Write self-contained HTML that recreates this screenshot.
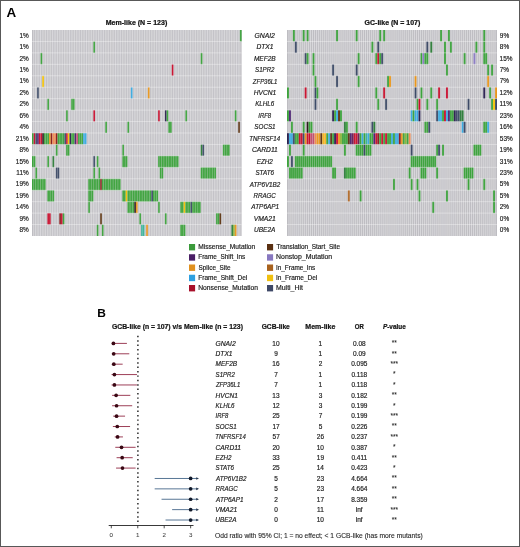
<!DOCTYPE html>
<html><head><meta charset="utf-8"><title>Figure</title>
<style>
html,body{margin:0;padding:0;background:#fff;}
body{width:520px;height:547px;overflow:hidden;}
svg{display:block;font-family:"Liberation Sans",sans-serif;will-change:transform;}
</style></head>
<body>
<svg width="520" height="547" viewBox="0 0 520 547">
<defs><filter id="soft" x="-2%" y="-2%" width="104%" height="104%"><feGaussianBlur stdDeviation="0.3"/></filter></defs>
<rect x="0.5" y="0.5" width="519" height="546" fill="#fff" stroke="#585858" stroke-width="1"/>
<text x="6.46" y="16.80" font-size="12.2" font-weight="bold" textLength="9.70" lengthAdjust="spacingAndGlyphs" fill="#000">A</text>
<text x="97.22" y="317.00" font-size="11.7" font-weight="bold" textLength="8.64" lengthAdjust="spacingAndGlyphs" fill="#000">B</text>
<text x="105.74" y="25.10" font-size="6.6" font-weight="bold" textLength="61.50" lengthAdjust="spacingAndGlyphs" fill="#141414" stroke="#141414" stroke-width="0.22">Mem-like (N = 123)</text>
<text x="364.62" y="25.10" font-size="6.6" font-weight="bold" textLength="55.73" lengthAdjust="spacingAndGlyphs" fill="#141414" stroke="#141414" stroke-width="0.22">GC-like (N = 107)</text>
<g filter="url(#soft)">
<rect x="32.0" y="30.0" width="209.6" height="206.0" fill="#bebdc2"/>
<path d="M33.704 30.0V236.0M35.408 30.0V236.0M37.112 30.0V236.0M38.816 30.0V236.0M40.520 30.0V236.0M42.224 30.0V236.0M43.928 30.0V236.0M45.633 30.0V236.0M47.337 30.0V236.0M49.041 30.0V236.0M50.745 30.0V236.0M52.449 30.0V236.0M54.153 30.0V236.0M55.857 30.0V236.0M57.561 30.0V236.0M59.265 30.0V236.0M60.969 30.0V236.0M62.673 30.0V236.0M64.377 30.0V236.0M66.081 30.0V236.0M67.785 30.0V236.0M69.489 30.0V236.0M71.193 30.0V236.0M72.898 30.0V236.0M74.602 30.0V236.0M76.306 30.0V236.0M78.010 30.0V236.0M79.714 30.0V236.0M81.418 30.0V236.0M83.122 30.0V236.0M84.826 30.0V236.0M86.530 30.0V236.0M88.234 30.0V236.0M89.938 30.0V236.0M91.642 30.0V236.0M93.346 30.0V236.0M95.050 30.0V236.0M96.754 30.0V236.0M98.459 30.0V236.0M100.163 30.0V236.0M101.867 30.0V236.0M103.571 30.0V236.0M105.275 30.0V236.0M106.979 30.0V236.0M108.683 30.0V236.0M110.387 30.0V236.0M112.091 30.0V236.0M113.795 30.0V236.0M115.499 30.0V236.0M117.203 30.0V236.0M118.907 30.0V236.0M120.611 30.0V236.0M122.315 30.0V236.0M124.020 30.0V236.0M125.724 30.0V236.0M127.428 30.0V236.0M129.132 30.0V236.0M130.836 30.0V236.0M132.540 30.0V236.0M134.244 30.0V236.0M135.948 30.0V236.0M137.652 30.0V236.0M139.356 30.0V236.0M141.060 30.0V236.0M142.764 30.0V236.0M144.468 30.0V236.0M146.172 30.0V236.0M147.876 30.0V236.0M149.580 30.0V236.0M151.285 30.0V236.0M152.989 30.0V236.0M154.693 30.0V236.0M156.397 30.0V236.0M158.101 30.0V236.0M159.805 30.0V236.0M161.509 30.0V236.0M163.213 30.0V236.0M164.917 30.0V236.0M166.621 30.0V236.0M168.325 30.0V236.0M170.029 30.0V236.0M171.733 30.0V236.0M173.437 30.0V236.0M175.141 30.0V236.0M176.846 30.0V236.0M178.550 30.0V236.0M180.254 30.0V236.0M181.958 30.0V236.0M183.662 30.0V236.0M185.366 30.0V236.0M187.070 30.0V236.0M188.774 30.0V236.0M190.478 30.0V236.0M192.182 30.0V236.0M193.886 30.0V236.0M195.590 30.0V236.0M197.294 30.0V236.0M198.998 30.0V236.0M200.702 30.0V236.0M202.407 30.0V236.0M204.111 30.0V236.0M205.815 30.0V236.0M207.519 30.0V236.0M209.223 30.0V236.0M210.927 30.0V236.0M212.631 30.0V236.0M214.335 30.0V236.0M216.039 30.0V236.0M217.743 30.0V236.0M219.447 30.0V236.0M221.151 30.0V236.0M222.855 30.0V236.0M224.559 30.0V236.0M226.263 30.0V236.0M227.967 30.0V236.0M229.672 30.0V236.0M231.376 30.0V236.0M233.080 30.0V236.0M234.784 30.0V236.0M236.488 30.0V236.0M238.192 30.0V236.0M239.896 30.0V236.0" stroke="#fff" stroke-width="0.45" stroke-opacity="0.75"/>
<rect x="239.896" y="30.000" width="1.704" height="11.444" fill="#3ca23c"/>
<rect x="93.346" y="41.444" width="1.704" height="11.444" fill="#3ca23c"/>
<rect x="40.520" y="52.889" width="1.704" height="11.444" fill="#3ca23c"/>
<rect x="200.702" y="52.889" width="1.704" height="11.444" fill="#3ca23c"/>
<rect x="171.733" y="64.333" width="1.704" height="11.444" fill="#c8102e"/>
<rect x="42.224" y="75.778" width="1.704" height="11.444" fill="#f5c200"/>
<rect x="37.112" y="87.222" width="1.704" height="11.444" fill="#3c4a66"/>
<rect x="130.836" y="87.222" width="1.704" height="11.444" fill="#3aaae0"/>
<rect x="147.876" y="87.222" width="1.704" height="11.444" fill="#e8961e"/>
<rect x="47.337" y="98.667" width="1.704" height="11.444" fill="#3ca23c"/>
<rect x="71.193" y="98.667" width="1.704" height="11.444" fill="#3ca23c"/>
<rect x="72.898" y="98.667" width="1.704" height="11.444" fill="#3ca23c"/>
<rect x="66.081" y="110.111" width="1.704" height="11.444" fill="#3ca23c"/>
<rect x="93.346" y="110.111" width="1.704" height="11.444" fill="#c8102e"/>
<rect x="158.101" y="110.111" width="1.704" height="11.444" fill="#c8102e"/>
<rect x="164.917" y="110.111" width="1.704" height="11.444" fill="#2a2050"/>
<rect x="166.621" y="110.111" width="1.704" height="11.444" fill="#3ca23c"/>
<rect x="185.366" y="110.111" width="1.704" height="11.444" fill="#3ca23c"/>
<rect x="234.784" y="110.111" width="1.704" height="11.444" fill="#3ca23c"/>
<rect x="105.275" y="121.556" width="1.704" height="11.444" fill="#3ca23c"/>
<rect x="127.428" y="121.556" width="1.704" height="11.444" fill="#3ca23c"/>
<rect x="168.325" y="121.556" width="1.704" height="11.444" fill="#3ca23c"/>
<rect x="170.029" y="121.556" width="1.704" height="11.444" fill="#3ca23c"/>
<rect x="238.192" y="121.556" width="1.704" height="11.444" fill="#5c3310"/>
<rect x="32.000" y="133.000" width="1.704" height="11.444" fill="#3ca23c"/>
<rect x="33.704" y="133.000" width="1.704" height="11.444" fill="#c8102e"/>
<rect x="35.408" y="133.000" width="1.704" height="11.444" fill="#3c4a66"/>
<rect x="37.112" y="133.000" width="1.704" height="11.444" fill="#4b2170"/>
<rect x="38.816" y="133.000" width="1.704" height="11.444" fill="#c8102e"/>
<rect x="40.520" y="133.000" width="1.704" height="11.444" fill="#c8102e"/>
<rect x="42.224" y="133.000" width="1.704" height="11.444" fill="#2a1a1a"/>
<rect x="43.928" y="133.000" width="1.704" height="11.444" fill="#3ca23c"/>
<rect x="45.633" y="133.000" width="1.704" height="11.444" fill="#3ca23c"/>
<rect x="47.337" y="133.000" width="1.704" height="11.444" fill="#3ca23c"/>
<rect x="49.041" y="133.000" width="1.704" height="11.444" fill="#e8961e"/>
<rect x="50.745" y="133.000" width="1.704" height="11.444" fill="#8b1a1a"/>
<rect x="52.449" y="133.000" width="1.704" height="11.444" fill="#f08a50"/>
<rect x="54.153" y="133.000" width="1.704" height="11.444" fill="#f08a50"/>
<rect x="55.857" y="133.000" width="1.704" height="11.444" fill="#8b1a1a"/>
<rect x="57.561" y="133.000" width="1.704" height="11.444" fill="#3ca23c"/>
<rect x="59.265" y="133.000" width="1.704" height="11.444" fill="#3ca23c"/>
<rect x="60.969" y="133.000" width="1.704" height="11.444" fill="#3ca23c"/>
<rect x="62.673" y="133.000" width="1.704" height="11.444" fill="#3ca23c"/>
<rect x="64.377" y="133.000" width="1.704" height="11.444" fill="#3c4a66"/>
<rect x="66.081" y="133.000" width="1.704" height="11.444" fill="#c8102e"/>
<rect x="67.785" y="133.000" width="1.704" height="11.444" fill="#f5c200"/>
<rect x="69.489" y="133.000" width="1.704" height="11.444" fill="#2a2050"/>
<rect x="71.193" y="133.000" width="1.704" height="11.444" fill="#3ca23c"/>
<rect x="72.898" y="133.000" width="1.704" height="11.444" fill="#3ca23c"/>
<rect x="74.602" y="133.000" width="1.704" height="11.444" fill="#4b2170"/>
<rect x="76.306" y="133.000" width="1.704" height="11.444" fill="#c05070"/>
<rect x="78.010" y="133.000" width="1.704" height="11.444" fill="#3ca23c"/>
<rect x="79.714" y="133.000" width="1.704" height="11.444" fill="#3ca23c"/>
<rect x="81.418" y="133.000" width="1.704" height="11.444" fill="#3ca23c"/>
<rect x="83.122" y="133.000" width="1.704" height="11.444" fill="#3aaae0"/>
<rect x="84.826" y="133.000" width="1.704" height="11.444" fill="#3aaae0"/>
<rect x="55.857" y="144.444" width="1.704" height="11.444" fill="#3ca23c"/>
<rect x="66.081" y="144.444" width="1.704" height="11.444" fill="#3ca23c"/>
<rect x="67.785" y="144.444" width="1.704" height="11.444" fill="#3ca23c"/>
<rect x="122.315" y="144.444" width="1.704" height="11.444" fill="#3ca23c"/>
<rect x="200.702" y="144.444" width="1.704" height="11.444" fill="#2e7d3a"/>
<rect x="202.407" y="144.444" width="1.704" height="11.444" fill="#3c4a66"/>
<rect x="222.855" y="144.444" width="1.704" height="11.444" fill="#3ca23c"/>
<rect x="224.559" y="144.444" width="1.704" height="11.444" fill="#3ca23c"/>
<rect x="226.263" y="144.444" width="1.704" height="11.444" fill="#3ca23c"/>
<rect x="227.967" y="144.444" width="1.704" height="11.444" fill="#3ca23c"/>
<rect x="32.000" y="155.889" width="1.704" height="11.444" fill="#3ca23c"/>
<rect x="33.704" y="155.889" width="1.704" height="11.444" fill="#3ca23c"/>
<rect x="47.337" y="155.889" width="1.704" height="11.444" fill="#3ca23c"/>
<rect x="52.449" y="155.889" width="1.704" height="11.444" fill="#2e7d3a"/>
<rect x="93.346" y="155.889" width="1.704" height="11.444" fill="#3c4a66"/>
<rect x="96.754" y="155.889" width="1.704" height="11.444" fill="#3ca23c"/>
<rect x="122.315" y="155.889" width="1.704" height="11.444" fill="#3ca23c"/>
<rect x="124.020" y="155.889" width="1.704" height="11.444" fill="#3ca23c"/>
<rect x="125.724" y="155.889" width="1.704" height="11.444" fill="#3ca23c"/>
<rect x="158.101" y="155.889" width="1.704" height="11.444" fill="#3ca23c"/>
<rect x="159.805" y="155.889" width="1.704" height="11.444" fill="#3ca23c"/>
<rect x="161.509" y="155.889" width="1.704" height="11.444" fill="#3ca23c"/>
<rect x="163.213" y="155.889" width="1.704" height="11.444" fill="#3ca23c"/>
<rect x="164.917" y="155.889" width="1.704" height="11.444" fill="#3ca23c"/>
<rect x="166.621" y="155.889" width="1.704" height="11.444" fill="#3ca23c"/>
<rect x="168.325" y="155.889" width="1.704" height="11.444" fill="#3ca23c"/>
<rect x="170.029" y="155.889" width="1.704" height="11.444" fill="#3ca23c"/>
<rect x="171.733" y="155.889" width="1.704" height="11.444" fill="#3ca23c"/>
<rect x="173.437" y="155.889" width="1.704" height="11.444" fill="#3ca23c"/>
<rect x="175.141" y="155.889" width="1.704" height="11.444" fill="#3ca23c"/>
<rect x="176.846" y="155.889" width="1.704" height="11.444" fill="#3ca23c"/>
<rect x="35.408" y="167.333" width="1.704" height="11.444" fill="#3ca23c"/>
<rect x="55.857" y="167.333" width="1.704" height="11.444" fill="#3c4a66"/>
<rect x="57.561" y="167.333" width="1.704" height="11.444" fill="#3c4a66"/>
<rect x="93.346" y="167.333" width="1.704" height="11.444" fill="#3ca23c"/>
<rect x="98.459" y="167.333" width="1.704" height="11.444" fill="#3ca23c"/>
<rect x="159.805" y="167.333" width="1.704" height="11.444" fill="#3ca23c"/>
<rect x="161.509" y="167.333" width="1.704" height="11.444" fill="#3ca23c"/>
<rect x="200.702" y="167.333" width="1.704" height="11.444" fill="#3ca23c"/>
<rect x="202.407" y="167.333" width="1.704" height="11.444" fill="#3ca23c"/>
<rect x="204.111" y="167.333" width="1.704" height="11.444" fill="#3ca23c"/>
<rect x="205.815" y="167.333" width="1.704" height="11.444" fill="#3ca23c"/>
<rect x="207.519" y="167.333" width="1.704" height="11.444" fill="#3ca23c"/>
<rect x="209.223" y="167.333" width="1.704" height="11.444" fill="#3ca23c"/>
<rect x="210.927" y="167.333" width="1.704" height="11.444" fill="#3ca23c"/>
<rect x="212.631" y="167.333" width="1.704" height="11.444" fill="#3ca23c"/>
<rect x="214.335" y="167.333" width="1.704" height="11.444" fill="#3ca23c"/>
<rect x="32.000" y="178.778" width="1.704" height="11.444" fill="#3ca23c"/>
<rect x="33.704" y="178.778" width="1.704" height="11.444" fill="#3ca23c"/>
<rect x="35.408" y="178.778" width="1.704" height="11.444" fill="#3ca23c"/>
<rect x="37.112" y="178.778" width="1.704" height="11.444" fill="#3ca23c"/>
<rect x="38.816" y="178.778" width="1.704" height="11.444" fill="#3ca23c"/>
<rect x="40.520" y="178.778" width="1.704" height="11.444" fill="#3ca23c"/>
<rect x="42.224" y="178.778" width="1.704" height="11.444" fill="#3ca23c"/>
<rect x="43.928" y="178.778" width="1.704" height="11.444" fill="#3ca23c"/>
<rect x="88.234" y="178.778" width="1.704" height="11.444" fill="#3ca23c"/>
<rect x="89.938" y="178.778" width="1.704" height="11.444" fill="#3ca23c"/>
<rect x="91.642" y="178.778" width="1.704" height="11.444" fill="#3ca23c"/>
<rect x="93.346" y="178.778" width="1.704" height="11.444" fill="#3ca23c"/>
<rect x="95.050" y="178.778" width="1.704" height="11.444" fill="#3ca23c"/>
<rect x="96.754" y="178.778" width="1.704" height="11.444" fill="#3ca23c"/>
<rect x="98.459" y="178.778" width="1.704" height="11.444" fill="#3ca23c"/>
<rect x="100.163" y="178.778" width="1.704" height="11.444" fill="#8b1a1a"/>
<rect x="101.867" y="178.778" width="1.704" height="11.444" fill="#3ca23c"/>
<rect x="103.571" y="178.778" width="1.704" height="11.444" fill="#3ca23c"/>
<rect x="105.275" y="178.778" width="1.704" height="11.444" fill="#3ca23c"/>
<rect x="106.979" y="178.778" width="1.704" height="11.444" fill="#3ca23c"/>
<rect x="108.683" y="178.778" width="1.704" height="11.444" fill="#3ca23c"/>
<rect x="110.387" y="178.778" width="1.704" height="11.444" fill="#3ca23c"/>
<rect x="112.091" y="178.778" width="1.704" height="11.444" fill="#3ca23c"/>
<rect x="113.795" y="178.778" width="1.704" height="11.444" fill="#3ca23c"/>
<rect x="115.499" y="178.778" width="1.704" height="11.444" fill="#3ca23c"/>
<rect x="117.203" y="178.778" width="1.704" height="11.444" fill="#3ca23c"/>
<rect x="118.907" y="178.778" width="1.704" height="11.444" fill="#3ca23c"/>
<rect x="47.337" y="190.222" width="1.704" height="11.444" fill="#3ca23c"/>
<rect x="49.041" y="190.222" width="1.704" height="11.444" fill="#3ca23c"/>
<rect x="50.745" y="190.222" width="1.704" height="11.444" fill="#3ca23c"/>
<rect x="52.449" y="190.222" width="1.704" height="11.444" fill="#3ca23c"/>
<rect x="88.234" y="190.222" width="1.704" height="11.444" fill="#3ca23c"/>
<rect x="89.938" y="190.222" width="1.704" height="11.444" fill="#3ca23c"/>
<rect x="91.642" y="190.222" width="1.704" height="11.444" fill="#3ca23c"/>
<rect x="122.315" y="190.222" width="1.704" height="11.444" fill="#3ca23c"/>
<rect x="124.020" y="190.222" width="1.704" height="11.444" fill="#3ca23c"/>
<rect x="125.724" y="190.222" width="1.704" height="11.444" fill="#f5c200"/>
<rect x="127.428" y="190.222" width="1.704" height="11.444" fill="#3ca23c"/>
<rect x="129.132" y="190.222" width="1.704" height="11.444" fill="#3ca23c"/>
<rect x="130.836" y="190.222" width="1.704" height="11.444" fill="#3ca23c"/>
<rect x="132.540" y="190.222" width="1.704" height="11.444" fill="#3ca23c"/>
<rect x="134.244" y="190.222" width="1.704" height="11.444" fill="#3ca23c"/>
<rect x="135.948" y="190.222" width="1.704" height="11.444" fill="#3ca23c"/>
<rect x="137.652" y="190.222" width="1.704" height="11.444" fill="#3ca23c"/>
<rect x="139.356" y="190.222" width="1.704" height="11.444" fill="#3ca23c"/>
<rect x="141.060" y="190.222" width="1.704" height="11.444" fill="#3ca23c"/>
<rect x="142.764" y="190.222" width="1.704" height="11.444" fill="#3ca23c"/>
<rect x="144.468" y="190.222" width="1.704" height="11.444" fill="#3ca23c"/>
<rect x="146.172" y="190.222" width="1.704" height="11.444" fill="#3ca23c"/>
<rect x="147.876" y="190.222" width="1.704" height="11.444" fill="#3ca23c"/>
<rect x="149.580" y="190.222" width="1.704" height="11.444" fill="#3ca23c"/>
<rect x="151.285" y="190.222" width="1.704" height="11.444" fill="#3c4a66"/>
<rect x="152.989" y="190.222" width="1.704" height="11.444" fill="#3ca23c"/>
<rect x="154.693" y="190.222" width="1.704" height="11.444" fill="#3ca23c"/>
<rect x="156.397" y="190.222" width="1.704" height="11.444" fill="#3ca23c"/>
<rect x="88.234" y="201.667" width="1.704" height="11.444" fill="#3ca23c"/>
<rect x="127.428" y="201.667" width="1.704" height="11.444" fill="#3ca23c"/>
<rect x="129.132" y="201.667" width="1.704" height="11.444" fill="#3ca23c"/>
<rect x="130.836" y="201.667" width="1.704" height="11.444" fill="#3ca23c"/>
<rect x="132.540" y="201.667" width="1.704" height="11.444" fill="#3ca23c"/>
<rect x="134.244" y="201.667" width="1.704" height="11.444" fill="#2a1a1a"/>
<rect x="135.948" y="201.667" width="1.704" height="11.444" fill="#e8961e"/>
<rect x="158.101" y="201.667" width="1.704" height="11.444" fill="#3ca23c"/>
<rect x="180.254" y="201.667" width="1.704" height="11.444" fill="#3ca23c"/>
<rect x="181.958" y="201.667" width="1.704" height="11.444" fill="#3ca23c"/>
<rect x="183.662" y="201.667" width="1.704" height="11.444" fill="#f5c200"/>
<rect x="185.366" y="201.667" width="1.704" height="11.444" fill="#3ca23c"/>
<rect x="187.070" y="201.667" width="1.704" height="11.444" fill="#3ca23c"/>
<rect x="188.774" y="201.667" width="1.704" height="11.444" fill="#3ca23c"/>
<rect x="190.478" y="201.667" width="1.704" height="11.444" fill="#3c4a66"/>
<rect x="192.182" y="201.667" width="1.704" height="11.444" fill="#3ca23c"/>
<rect x="193.886" y="201.667" width="1.704" height="11.444" fill="#3ca23c"/>
<rect x="195.590" y="201.667" width="1.704" height="11.444" fill="#3ca23c"/>
<rect x="197.294" y="201.667" width="1.704" height="11.444" fill="#3ca23c"/>
<rect x="198.998" y="201.667" width="1.704" height="11.444" fill="#3ca23c"/>
<rect x="47.337" y="213.111" width="1.704" height="11.444" fill="#c8102e"/>
<rect x="49.041" y="213.111" width="1.704" height="11.444" fill="#c8102e"/>
<rect x="59.265" y="213.111" width="1.704" height="11.444" fill="#8b1a1a"/>
<rect x="60.969" y="213.111" width="1.704" height="11.444" fill="#c8102e"/>
<rect x="62.673" y="213.111" width="1.704" height="11.444" fill="#3ca23c"/>
<rect x="100.163" y="213.111" width="1.704" height="11.444" fill="#5c3310"/>
<rect x="139.356" y="213.111" width="1.704" height="11.444" fill="#3ca23c"/>
<rect x="164.917" y="213.111" width="1.704" height="11.444" fill="#3ca23c"/>
<rect x="216.039" y="213.111" width="1.704" height="11.444" fill="#3ca23c"/>
<rect x="217.743" y="213.111" width="1.704" height="11.444" fill="#3ca23c"/>
<rect x="219.447" y="213.111" width="1.704" height="11.444" fill="#5c3310"/>
<rect x="96.754" y="224.556" width="1.704" height="11.444" fill="#3ca23c"/>
<rect x="101.867" y="224.556" width="1.704" height="11.444" fill="#3ca23c"/>
<rect x="141.060" y="224.556" width="1.704" height="11.444" fill="#3bb39a"/>
<rect x="142.764" y="224.556" width="1.704" height="11.444" fill="#3bb39a"/>
<rect x="146.172" y="224.556" width="1.704" height="11.444" fill="#e8961e"/>
<rect x="180.254" y="224.556" width="1.704" height="11.444" fill="#3ca23c"/>
<rect x="181.958" y="224.556" width="1.704" height="11.444" fill="#3ca23c"/>
<rect x="183.662" y="224.556" width="1.704" height="11.444" fill="#3ca23c"/>
<rect x="231.376" y="224.556" width="1.704" height="11.444" fill="#2e7d3a"/>
<rect x="233.080" y="224.556" width="1.704" height="11.444" fill="#8ab43a"/>
<rect x="234.784" y="224.556" width="1.704" height="11.444" fill="#e8961e"/>
<path d="M33.704 30.0V236.0M35.408 30.0V236.0M37.112 30.0V236.0M38.816 30.0V236.0M40.520 30.0V236.0M42.224 30.0V236.0M43.928 30.0V236.0M45.633 30.0V236.0M47.337 30.0V236.0M49.041 30.0V236.0M50.745 30.0V236.0M52.449 30.0V236.0M54.153 30.0V236.0M55.857 30.0V236.0M57.561 30.0V236.0M59.265 30.0V236.0M60.969 30.0V236.0M62.673 30.0V236.0M64.377 30.0V236.0M66.081 30.0V236.0M67.785 30.0V236.0M69.489 30.0V236.0M71.193 30.0V236.0M72.898 30.0V236.0M74.602 30.0V236.0M76.306 30.0V236.0M78.010 30.0V236.0M79.714 30.0V236.0M81.418 30.0V236.0M83.122 30.0V236.0M84.826 30.0V236.0M86.530 30.0V236.0M88.234 30.0V236.0M89.938 30.0V236.0M91.642 30.0V236.0M93.346 30.0V236.0M95.050 30.0V236.0M96.754 30.0V236.0M98.459 30.0V236.0M100.163 30.0V236.0M101.867 30.0V236.0M103.571 30.0V236.0M105.275 30.0V236.0M106.979 30.0V236.0M108.683 30.0V236.0M110.387 30.0V236.0M112.091 30.0V236.0M113.795 30.0V236.0M115.499 30.0V236.0M117.203 30.0V236.0M118.907 30.0V236.0M120.611 30.0V236.0M122.315 30.0V236.0M124.020 30.0V236.0M125.724 30.0V236.0M127.428 30.0V236.0M129.132 30.0V236.0M130.836 30.0V236.0M132.540 30.0V236.0M134.244 30.0V236.0M135.948 30.0V236.0M137.652 30.0V236.0M139.356 30.0V236.0M141.060 30.0V236.0M142.764 30.0V236.0M144.468 30.0V236.0M146.172 30.0V236.0M147.876 30.0V236.0M149.580 30.0V236.0M151.285 30.0V236.0M152.989 30.0V236.0M154.693 30.0V236.0M156.397 30.0V236.0M158.101 30.0V236.0M159.805 30.0V236.0M161.509 30.0V236.0M163.213 30.0V236.0M164.917 30.0V236.0M166.621 30.0V236.0M168.325 30.0V236.0M170.029 30.0V236.0M171.733 30.0V236.0M173.437 30.0V236.0M175.141 30.0V236.0M176.846 30.0V236.0M178.550 30.0V236.0M180.254 30.0V236.0M181.958 30.0V236.0M183.662 30.0V236.0M185.366 30.0V236.0M187.070 30.0V236.0M188.774 30.0V236.0M190.478 30.0V236.0M192.182 30.0V236.0M193.886 30.0V236.0M195.590 30.0V236.0M197.294 30.0V236.0M198.998 30.0V236.0M200.702 30.0V236.0M202.407 30.0V236.0M204.111 30.0V236.0M205.815 30.0V236.0M207.519 30.0V236.0M209.223 30.0V236.0M210.927 30.0V236.0M212.631 30.0V236.0M214.335 30.0V236.0M216.039 30.0V236.0M217.743 30.0V236.0M219.447 30.0V236.0M221.151 30.0V236.0M222.855 30.0V236.0M224.559 30.0V236.0M226.263 30.0V236.0M227.967 30.0V236.0M229.672 30.0V236.0M231.376 30.0V236.0M233.080 30.0V236.0M234.784 30.0V236.0M236.488 30.0V236.0M238.192 30.0V236.0M239.896 30.0V236.0" stroke="#fff" stroke-width="0.45" stroke-opacity="0.3"/>
<path d="M32.0 41.444H241.6M32.0 52.889H241.6M32.0 64.333H241.6M32.0 75.778H241.6M32.0 87.222H241.6M32.0 98.667H241.6M32.0 110.111H241.6M32.0 121.556H241.6M32.0 133.000H241.6M32.0 144.444H241.6M32.0 155.889H241.6M32.0 167.333H241.6M32.0 178.778H241.6M32.0 190.222H241.6M32.0 201.667H241.6M32.0 213.111H241.6M32.0 224.556H241.6" stroke="#fff" stroke-width="0.8" stroke-opacity="0.45"/>
</g>
<g filter="url(#soft)">
<rect x="287.0" y="30.0" width="210.0" height="206.0" fill="#bebdc2"/>
<path d="M288.963 30.0V236.0M290.925 30.0V236.0M292.888 30.0V236.0M294.850 30.0V236.0M296.813 30.0V236.0M298.776 30.0V236.0M300.738 30.0V236.0M302.701 30.0V236.0M304.664 30.0V236.0M306.626 30.0V236.0M308.589 30.0V236.0M310.551 30.0V236.0M312.514 30.0V236.0M314.477 30.0V236.0M316.439 30.0V236.0M318.402 30.0V236.0M320.364 30.0V236.0M322.327 30.0V236.0M324.290 30.0V236.0M326.252 30.0V236.0M328.215 30.0V236.0M330.178 30.0V236.0M332.140 30.0V236.0M334.103 30.0V236.0M336.065 30.0V236.0M338.028 30.0V236.0M339.991 30.0V236.0M341.953 30.0V236.0M343.916 30.0V236.0M345.879 30.0V236.0M347.841 30.0V236.0M349.804 30.0V236.0M351.766 30.0V236.0M353.729 30.0V236.0M355.692 30.0V236.0M357.654 30.0V236.0M359.617 30.0V236.0M361.579 30.0V236.0M363.542 30.0V236.0M365.505 30.0V236.0M367.467 30.0V236.0M369.430 30.0V236.0M371.393 30.0V236.0M373.355 30.0V236.0M375.318 30.0V236.0M377.280 30.0V236.0M379.243 30.0V236.0M381.206 30.0V236.0M383.168 30.0V236.0M385.131 30.0V236.0M387.093 30.0V236.0M389.056 30.0V236.0M391.019 30.0V236.0M392.981 30.0V236.0M394.944 30.0V236.0M396.907 30.0V236.0M398.869 30.0V236.0M400.832 30.0V236.0M402.794 30.0V236.0M404.757 30.0V236.0M406.720 30.0V236.0M408.682 30.0V236.0M410.645 30.0V236.0M412.607 30.0V236.0M414.570 30.0V236.0M416.533 30.0V236.0M418.495 30.0V236.0M420.458 30.0V236.0M422.421 30.0V236.0M424.383 30.0V236.0M426.346 30.0V236.0M428.308 30.0V236.0M430.271 30.0V236.0M432.234 30.0V236.0M434.196 30.0V236.0M436.159 30.0V236.0M438.121 30.0V236.0M440.084 30.0V236.0M442.047 30.0V236.0M444.009 30.0V236.0M445.972 30.0V236.0M447.935 30.0V236.0M449.897 30.0V236.0M451.860 30.0V236.0M453.822 30.0V236.0M455.785 30.0V236.0M457.748 30.0V236.0M459.710 30.0V236.0M461.673 30.0V236.0M463.636 30.0V236.0M465.598 30.0V236.0M467.561 30.0V236.0M469.523 30.0V236.0M471.486 30.0V236.0M473.449 30.0V236.0M475.411 30.0V236.0M477.374 30.0V236.0M479.336 30.0V236.0M481.299 30.0V236.0M483.262 30.0V236.0M485.224 30.0V236.0M487.187 30.0V236.0M489.150 30.0V236.0M491.112 30.0V236.0M493.075 30.0V236.0M495.037 30.0V236.0" stroke="#fff" stroke-width="0.45" stroke-opacity="0.75"/>
<rect x="292.888" y="30.000" width="1.963" height="11.444" fill="#3ca23c"/>
<rect x="302.701" y="30.000" width="1.963" height="11.444" fill="#3ca23c"/>
<rect x="306.626" y="30.000" width="1.963" height="11.444" fill="#3ca23c"/>
<rect x="336.065" y="30.000" width="1.963" height="11.444" fill="#3ca23c"/>
<rect x="355.692" y="30.000" width="1.963" height="11.444" fill="#3ca23c"/>
<rect x="379.243" y="30.000" width="1.963" height="11.444" fill="#3ca23c"/>
<rect x="383.168" y="30.000" width="1.963" height="11.444" fill="#3ca23c"/>
<rect x="440.084" y="30.000" width="1.963" height="11.444" fill="#3ca23c"/>
<rect x="447.935" y="30.000" width="1.963" height="11.444" fill="#3ca23c"/>
<rect x="483.262" y="30.000" width="1.963" height="11.444" fill="#3ca23c"/>
<rect x="294.850" y="41.444" width="1.963" height="11.444" fill="#3c4a66"/>
<rect x="371.393" y="41.444" width="1.963" height="11.444" fill="#3ca23c"/>
<rect x="377.280" y="41.444" width="1.963" height="11.444" fill="#3c4a66"/>
<rect x="426.346" y="41.444" width="1.963" height="11.444" fill="#3c4a66"/>
<rect x="430.271" y="41.444" width="1.963" height="11.444" fill="#2e7d3a"/>
<rect x="444.009" y="41.444" width="1.963" height="11.444" fill="#3ca23c"/>
<rect x="449.897" y="41.444" width="1.963" height="11.444" fill="#3ca23c"/>
<rect x="475.411" y="41.444" width="1.963" height="11.444" fill="#3ca23c"/>
<rect x="483.262" y="41.444" width="1.963" height="11.444" fill="#3ca23c"/>
<rect x="304.664" y="52.889" width="1.963" height="11.444" fill="#3c4a66"/>
<rect x="306.626" y="52.889" width="1.963" height="11.444" fill="#3ca23c"/>
<rect x="312.514" y="52.889" width="1.963" height="11.444" fill="#3ca23c"/>
<rect x="357.654" y="52.889" width="1.963" height="11.444" fill="#3ca23c"/>
<rect x="375.318" y="52.889" width="1.963" height="11.444" fill="#3ca23c"/>
<rect x="377.280" y="52.889" width="1.963" height="11.444" fill="#c8102e"/>
<rect x="379.243" y="52.889" width="1.963" height="11.444" fill="#3ca23c"/>
<rect x="381.206" y="52.889" width="1.963" height="11.444" fill="#3c4a66"/>
<rect x="420.458" y="52.889" width="1.963" height="11.444" fill="#3ca23c"/>
<rect x="422.421" y="52.889" width="1.963" height="11.444" fill="#8c7cc4"/>
<rect x="424.383" y="52.889" width="1.963" height="11.444" fill="#3ca23c"/>
<rect x="426.346" y="52.889" width="1.963" height="11.444" fill="#3ca23c"/>
<rect x="444.009" y="52.889" width="1.963" height="11.444" fill="#3ca23c"/>
<rect x="463.636" y="52.889" width="1.963" height="11.444" fill="#3ca23c"/>
<rect x="473.449" y="52.889" width="1.963" height="11.444" fill="#8c7cc4"/>
<rect x="483.262" y="52.889" width="1.963" height="11.444" fill="#3ca23c"/>
<rect x="485.224" y="52.889" width="1.963" height="11.444" fill="#3ca23c"/>
<rect x="312.514" y="64.333" width="1.963" height="11.444" fill="#3ca23c"/>
<rect x="332.140" y="64.333" width="1.963" height="11.444" fill="#3c4a66"/>
<rect x="355.692" y="64.333" width="1.963" height="11.444" fill="#3c4a66"/>
<rect x="445.972" y="64.333" width="1.963" height="11.444" fill="#3ca23c"/>
<rect x="487.187" y="64.333" width="1.963" height="11.444" fill="#3ca23c"/>
<rect x="491.112" y="64.333" width="1.963" height="11.444" fill="#3ca23c"/>
<rect x="314.477" y="75.778" width="1.963" height="11.444" fill="#3ca23c"/>
<rect x="336.065" y="75.778" width="1.963" height="11.444" fill="#3c4a66"/>
<rect x="357.654" y="75.778" width="1.963" height="11.444" fill="#3ca23c"/>
<rect x="387.093" y="75.778" width="1.963" height="11.444" fill="#3ca23c"/>
<rect x="389.056" y="75.778" width="1.963" height="11.444" fill="#e8961e"/>
<rect x="414.570" y="75.778" width="1.963" height="11.444" fill="#e8961e"/>
<rect x="487.187" y="75.778" width="1.963" height="11.444" fill="#e8961e"/>
<rect x="287.000" y="87.222" width="1.963" height="11.444" fill="#3ca23c"/>
<rect x="304.664" y="87.222" width="1.963" height="11.444" fill="#c8102e"/>
<rect x="314.477" y="87.222" width="1.963" height="11.444" fill="#3c4a66"/>
<rect x="316.439" y="87.222" width="1.963" height="11.444" fill="#3ca23c"/>
<rect x="375.318" y="87.222" width="1.963" height="11.444" fill="#3ca23c"/>
<rect x="383.168" y="87.222" width="1.963" height="11.444" fill="#c8102e"/>
<rect x="414.570" y="87.222" width="1.963" height="11.444" fill="#3c4a66"/>
<rect x="420.458" y="87.222" width="1.963" height="11.444" fill="#3ca23c"/>
<rect x="430.271" y="87.222" width="1.963" height="11.444" fill="#3ca23c"/>
<rect x="438.121" y="87.222" width="1.963" height="11.444" fill="#c8102e"/>
<rect x="445.972" y="87.222" width="1.963" height="11.444" fill="#c8102e"/>
<rect x="483.262" y="87.222" width="1.963" height="11.444" fill="#2a2050"/>
<rect x="489.150" y="87.222" width="1.963" height="11.444" fill="#3ca23c"/>
<rect x="495.037" y="87.222" width="1.963" height="11.444" fill="#e8961e"/>
<rect x="314.477" y="98.667" width="1.963" height="11.444" fill="#3c4a66"/>
<rect x="336.065" y="98.667" width="1.963" height="11.444" fill="#3ca23c"/>
<rect x="377.280" y="98.667" width="1.963" height="11.444" fill="#3ca23c"/>
<rect x="385.131" y="98.667" width="1.963" height="11.444" fill="#3c4a66"/>
<rect x="416.533" y="98.667" width="1.963" height="11.444" fill="#3ca23c"/>
<rect x="418.495" y="98.667" width="1.963" height="11.444" fill="#c8102e"/>
<rect x="426.346" y="98.667" width="1.963" height="11.444" fill="#3ca23c"/>
<rect x="436.159" y="98.667" width="1.963" height="11.444" fill="#3ca23c"/>
<rect x="467.561" y="98.667" width="1.963" height="11.444" fill="#3c4a66"/>
<rect x="491.112" y="98.667" width="1.963" height="11.444" fill="#3ca23c"/>
<rect x="493.075" y="98.667" width="1.963" height="11.444" fill="#f5c200"/>
<rect x="495.037" y="98.667" width="1.963" height="11.444" fill="#3c4a66"/>
<rect x="287.000" y="110.111" width="1.963" height="11.444" fill="#3ca23c"/>
<rect x="288.963" y="110.111" width="1.963" height="11.444" fill="#4b2170"/>
<rect x="332.140" y="110.111" width="1.963" height="11.444" fill="#2a2050"/>
<rect x="334.103" y="110.111" width="1.963" height="11.444" fill="#3ca23c"/>
<rect x="336.065" y="110.111" width="1.963" height="11.444" fill="#3aaae0"/>
<rect x="338.028" y="110.111" width="1.963" height="11.444" fill="#5c3310"/>
<rect x="339.991" y="110.111" width="1.963" height="11.444" fill="#3ca23c"/>
<rect x="410.645" y="110.111" width="1.963" height="11.444" fill="#3aaae0"/>
<rect x="412.607" y="110.111" width="1.963" height="11.444" fill="#3ca23c"/>
<rect x="414.570" y="110.111" width="1.963" height="11.444" fill="#3aaae0"/>
<rect x="416.533" y="110.111" width="1.963" height="11.444" fill="#3aaae0"/>
<rect x="418.495" y="110.111" width="1.963" height="11.444" fill="#2a2050"/>
<rect x="436.159" y="110.111" width="1.963" height="11.444" fill="#3c4a66"/>
<rect x="438.121" y="110.111" width="1.963" height="11.444" fill="#3aaae0"/>
<rect x="440.084" y="110.111" width="1.963" height="11.444" fill="#3aaae0"/>
<rect x="442.047" y="110.111" width="1.963" height="11.444" fill="#3ca23c"/>
<rect x="444.009" y="110.111" width="1.963" height="11.444" fill="#c8102e"/>
<rect x="445.972" y="110.111" width="1.963" height="11.444" fill="#3aaae0"/>
<rect x="447.935" y="110.111" width="1.963" height="11.444" fill="#4b2170"/>
<rect x="449.897" y="110.111" width="1.963" height="11.444" fill="#3ca23c"/>
<rect x="451.860" y="110.111" width="1.963" height="11.444" fill="#3ca23c"/>
<rect x="453.822" y="110.111" width="1.963" height="11.444" fill="#2a2050"/>
<rect x="455.785" y="110.111" width="1.963" height="11.444" fill="#3c4a66"/>
<rect x="457.748" y="110.111" width="1.963" height="11.444" fill="#3c4a66"/>
<rect x="459.710" y="110.111" width="1.963" height="11.444" fill="#2e7d3a"/>
<rect x="461.673" y="110.111" width="1.963" height="11.444" fill="#2e7d3a"/>
<rect x="290.925" y="121.556" width="1.963" height="11.444" fill="#3ca23c"/>
<rect x="302.701" y="121.556" width="1.963" height="11.444" fill="#3ca23c"/>
<rect x="306.626" y="121.556" width="1.963" height="11.444" fill="#2a1a1a"/>
<rect x="308.589" y="121.556" width="1.963" height="11.444" fill="#3ca23c"/>
<rect x="310.551" y="121.556" width="1.963" height="11.444" fill="#3ca23c"/>
<rect x="343.916" y="121.556" width="1.963" height="11.444" fill="#2e7d3a"/>
<rect x="345.879" y="121.556" width="1.963" height="11.444" fill="#3ca23c"/>
<rect x="355.692" y="121.556" width="1.963" height="11.444" fill="#3ca23c"/>
<rect x="371.393" y="121.556" width="1.963" height="11.444" fill="#3c4a66"/>
<rect x="373.355" y="121.556" width="1.963" height="11.444" fill="#2e7d3a"/>
<rect x="424.383" y="121.556" width="1.963" height="11.444" fill="#3ca23c"/>
<rect x="426.346" y="121.556" width="1.963" height="11.444" fill="#3ca23c"/>
<rect x="428.308" y="121.556" width="1.963" height="11.444" fill="#3c4a66"/>
<rect x="461.673" y="121.556" width="1.963" height="11.444" fill="#3aaae0"/>
<rect x="463.636" y="121.556" width="1.963" height="11.444" fill="#3c4a66"/>
<rect x="483.262" y="121.556" width="1.963" height="11.444" fill="#3ca23c"/>
<rect x="485.224" y="121.556" width="1.963" height="11.444" fill="#3ca23c"/>
<rect x="487.187" y="121.556" width="1.963" height="11.444" fill="#3aaae0"/>
<rect x="287.000" y="133.000" width="1.963" height="11.444" fill="#2a2050"/>
<rect x="288.963" y="133.000" width="1.963" height="11.444" fill="#3aaae0"/>
<rect x="290.925" y="133.000" width="1.963" height="11.444" fill="#3aaae0"/>
<rect x="292.888" y="133.000" width="1.963" height="11.444" fill="#3c4a66"/>
<rect x="294.850" y="133.000" width="1.963" height="11.444" fill="#3ca23c"/>
<rect x="296.813" y="133.000" width="1.963" height="11.444" fill="#3ca23c"/>
<rect x="298.776" y="133.000" width="1.963" height="11.444" fill="#c8102e"/>
<rect x="300.738" y="133.000" width="1.963" height="11.444" fill="#c8102e"/>
<rect x="302.701" y="133.000" width="1.963" height="11.444" fill="#3c4a66"/>
<rect x="304.664" y="133.000" width="1.963" height="11.444" fill="#e8961e"/>
<rect x="306.626" y="133.000" width="1.963" height="11.444" fill="#c8102e"/>
<rect x="308.589" y="133.000" width="1.963" height="11.444" fill="#c8102e"/>
<rect x="310.551" y="133.000" width="1.963" height="11.444" fill="#c05070"/>
<rect x="312.514" y="133.000" width="1.963" height="11.444" fill="#c05070"/>
<rect x="314.477" y="133.000" width="1.963" height="11.444" fill="#f08a50"/>
<rect x="316.439" y="133.000" width="1.963" height="11.444" fill="#e8961e"/>
<rect x="318.402" y="133.000" width="1.963" height="11.444" fill="#e8961e"/>
<rect x="320.364" y="133.000" width="1.963" height="11.444" fill="#5c3310"/>
<rect x="322.327" y="133.000" width="1.963" height="11.444" fill="#f5b41e"/>
<rect x="324.290" y="133.000" width="1.963" height="11.444" fill="#f5b41e"/>
<rect x="326.252" y="133.000" width="1.963" height="11.444" fill="#3ca23c"/>
<rect x="328.215" y="133.000" width="1.963" height="11.444" fill="#3aaae0"/>
<rect x="330.178" y="133.000" width="1.963" height="11.444" fill="#5c3310"/>
<rect x="332.140" y="133.000" width="1.963" height="11.444" fill="#3ca23c"/>
<rect x="334.103" y="133.000" width="1.963" height="11.444" fill="#2a2050"/>
<rect x="336.065" y="133.000" width="1.963" height="11.444" fill="#c8102e"/>
<rect x="338.028" y="133.000" width="1.963" height="11.444" fill="#e8961e"/>
<rect x="339.991" y="133.000" width="1.963" height="11.444" fill="#8ab43a"/>
<rect x="341.953" y="133.000" width="1.963" height="11.444" fill="#3ca23c"/>
<rect x="343.916" y="133.000" width="1.963" height="11.444" fill="#3ca23c"/>
<rect x="345.879" y="133.000" width="1.963" height="11.444" fill="#3ca23c"/>
<rect x="347.841" y="133.000" width="1.963" height="11.444" fill="#5c3310"/>
<rect x="349.804" y="133.000" width="1.963" height="11.444" fill="#4b2170"/>
<rect x="351.766" y="133.000" width="1.963" height="11.444" fill="#6a1d55"/>
<rect x="353.729" y="133.000" width="1.963" height="11.444" fill="#c8102e"/>
<rect x="355.692" y="133.000" width="1.963" height="11.444" fill="#c8102e"/>
<rect x="357.654" y="133.000" width="1.963" height="11.444" fill="#6a1d55"/>
<rect x="359.617" y="133.000" width="1.963" height="11.444" fill="#3ca23c"/>
<rect x="361.579" y="133.000" width="1.963" height="11.444" fill="#3aaae0"/>
<rect x="363.542" y="133.000" width="1.963" height="11.444" fill="#3ca23c"/>
<rect x="365.505" y="133.000" width="1.963" height="11.444" fill="#3bb39a"/>
<rect x="367.467" y="133.000" width="1.963" height="11.444" fill="#3aaae0"/>
<rect x="369.430" y="133.000" width="1.963" height="11.444" fill="#3ca23c"/>
<rect x="371.393" y="133.000" width="1.963" height="11.444" fill="#3ca23c"/>
<rect x="373.355" y="133.000" width="1.963" height="11.444" fill="#4b2170"/>
<rect x="375.318" y="133.000" width="1.963" height="11.444" fill="#c8102e"/>
<rect x="377.280" y="133.000" width="1.963" height="11.444" fill="#8b1a1a"/>
<rect x="379.243" y="133.000" width="1.963" height="11.444" fill="#3ca23c"/>
<rect x="381.206" y="133.000" width="1.963" height="11.444" fill="#c8102e"/>
<rect x="383.168" y="133.000" width="1.963" height="11.444" fill="#3ca23c"/>
<rect x="385.131" y="133.000" width="1.963" height="11.444" fill="#c8102e"/>
<rect x="387.093" y="133.000" width="1.963" height="11.444" fill="#3ca23c"/>
<rect x="389.056" y="133.000" width="1.963" height="11.444" fill="#3ca23c"/>
<rect x="391.019" y="133.000" width="1.963" height="11.444" fill="#3aaae0"/>
<rect x="392.981" y="133.000" width="1.963" height="11.444" fill="#3ca23c"/>
<rect x="394.944" y="133.000" width="1.963" height="11.444" fill="#3aaae0"/>
<rect x="396.907" y="133.000" width="1.963" height="11.444" fill="#3aaae0"/>
<rect x="398.869" y="133.000" width="1.963" height="11.444" fill="#8b1a1a"/>
<rect x="400.832" y="133.000" width="1.963" height="11.444" fill="#e8961e"/>
<rect x="402.794" y="133.000" width="1.963" height="11.444" fill="#3ca23c"/>
<rect x="404.757" y="133.000" width="1.963" height="11.444" fill="#8ab43a"/>
<rect x="406.720" y="133.000" width="1.963" height="11.444" fill="#3ca23c"/>
<rect x="408.682" y="133.000" width="1.963" height="11.444" fill="#f08a50"/>
<rect x="288.963" y="144.444" width="1.963" height="11.444" fill="#3ca23c"/>
<rect x="302.701" y="144.444" width="1.963" height="11.444" fill="#3ca23c"/>
<rect x="343.916" y="144.444" width="1.963" height="11.444" fill="#3ca23c"/>
<rect x="355.692" y="144.444" width="1.963" height="11.444" fill="#3ca23c"/>
<rect x="357.654" y="144.444" width="1.963" height="11.444" fill="#3ca23c"/>
<rect x="359.617" y="144.444" width="1.963" height="11.444" fill="#3ca23c"/>
<rect x="361.579" y="144.444" width="1.963" height="11.444" fill="#3ca23c"/>
<rect x="363.542" y="144.444" width="1.963" height="11.444" fill="#3c4a66"/>
<rect x="365.505" y="144.444" width="1.963" height="11.444" fill="#3ca23c"/>
<rect x="367.467" y="144.444" width="1.963" height="11.444" fill="#3ca23c"/>
<rect x="369.430" y="144.444" width="1.963" height="11.444" fill="#3ca23c"/>
<rect x="410.645" y="144.444" width="1.963" height="11.444" fill="#3c4a66"/>
<rect x="436.159" y="144.444" width="1.963" height="11.444" fill="#3ca23c"/>
<rect x="438.121" y="144.444" width="1.963" height="11.444" fill="#3c4a66"/>
<rect x="442.047" y="144.444" width="1.963" height="11.444" fill="#3ca23c"/>
<rect x="473.449" y="144.444" width="1.963" height="11.444" fill="#3ca23c"/>
<rect x="475.411" y="144.444" width="1.963" height="11.444" fill="#3ca23c"/>
<rect x="477.374" y="144.444" width="1.963" height="11.444" fill="#3ca23c"/>
<rect x="479.336" y="144.444" width="1.963" height="11.444" fill="#3ca23c"/>
<rect x="287.000" y="155.889" width="1.963" height="11.444" fill="#3ca23c"/>
<rect x="290.925" y="155.889" width="1.963" height="11.444" fill="#3c4a66"/>
<rect x="294.850" y="155.889" width="1.963" height="11.444" fill="#3ca23c"/>
<rect x="296.813" y="155.889" width="1.963" height="11.444" fill="#3ca23c"/>
<rect x="298.776" y="155.889" width="1.963" height="11.444" fill="#3ca23c"/>
<rect x="300.738" y="155.889" width="1.963" height="11.444" fill="#3ca23c"/>
<rect x="302.701" y="155.889" width="1.963" height="11.444" fill="#3ca23c"/>
<rect x="304.664" y="155.889" width="1.963" height="11.444" fill="#3ca23c"/>
<rect x="306.626" y="155.889" width="1.963" height="11.444" fill="#3ca23c"/>
<rect x="308.589" y="155.889" width="1.963" height="11.444" fill="#3ca23c"/>
<rect x="310.551" y="155.889" width="1.963" height="11.444" fill="#3ca23c"/>
<rect x="312.514" y="155.889" width="1.963" height="11.444" fill="#3ca23c"/>
<rect x="314.477" y="155.889" width="1.963" height="11.444" fill="#3ca23c"/>
<rect x="316.439" y="155.889" width="1.963" height="11.444" fill="#3ca23c"/>
<rect x="318.402" y="155.889" width="1.963" height="11.444" fill="#3ca23c"/>
<rect x="320.364" y="155.889" width="1.963" height="11.444" fill="#3ca23c"/>
<rect x="322.327" y="155.889" width="1.963" height="11.444" fill="#3ca23c"/>
<rect x="324.290" y="155.889" width="1.963" height="11.444" fill="#3ca23c"/>
<rect x="326.252" y="155.889" width="1.963" height="11.444" fill="#3ca23c"/>
<rect x="328.215" y="155.889" width="1.963" height="11.444" fill="#3ca23c"/>
<rect x="330.178" y="155.889" width="1.963" height="11.444" fill="#3ca23c"/>
<rect x="410.645" y="155.889" width="1.963" height="11.444" fill="#3ca23c"/>
<rect x="412.607" y="155.889" width="1.963" height="11.444" fill="#3ca23c"/>
<rect x="414.570" y="155.889" width="1.963" height="11.444" fill="#3ca23c"/>
<rect x="416.533" y="155.889" width="1.963" height="11.444" fill="#3ca23c"/>
<rect x="418.495" y="155.889" width="1.963" height="11.444" fill="#3ca23c"/>
<rect x="420.458" y="155.889" width="1.963" height="11.444" fill="#3ca23c"/>
<rect x="422.421" y="155.889" width="1.963" height="11.444" fill="#3ca23c"/>
<rect x="424.383" y="155.889" width="1.963" height="11.444" fill="#3ca23c"/>
<rect x="426.346" y="155.889" width="1.963" height="11.444" fill="#3ca23c"/>
<rect x="428.308" y="155.889" width="1.963" height="11.444" fill="#3ca23c"/>
<rect x="430.271" y="155.889" width="1.963" height="11.444" fill="#3ca23c"/>
<rect x="432.234" y="155.889" width="1.963" height="11.444" fill="#3ca23c"/>
<rect x="434.196" y="155.889" width="1.963" height="11.444" fill="#3ca23c"/>
<rect x="288.963" y="167.333" width="1.963" height="11.444" fill="#3ca23c"/>
<rect x="290.925" y="167.333" width="1.963" height="11.444" fill="#3ca23c"/>
<rect x="292.888" y="167.333" width="1.963" height="11.444" fill="#3ca23c"/>
<rect x="294.850" y="167.333" width="1.963" height="11.444" fill="#3ca23c"/>
<rect x="296.813" y="167.333" width="1.963" height="11.444" fill="#3ca23c"/>
<rect x="298.776" y="167.333" width="1.963" height="11.444" fill="#3ca23c"/>
<rect x="300.738" y="167.333" width="1.963" height="11.444" fill="#3ca23c"/>
<rect x="332.140" y="167.333" width="1.963" height="11.444" fill="#3ca23c"/>
<rect x="334.103" y="167.333" width="1.963" height="11.444" fill="#3ca23c"/>
<rect x="343.916" y="167.333" width="1.963" height="11.444" fill="#2e7d3a"/>
<rect x="345.879" y="167.333" width="1.963" height="11.444" fill="#3ca23c"/>
<rect x="347.841" y="167.333" width="1.963" height="11.444" fill="#3ca23c"/>
<rect x="349.804" y="167.333" width="1.963" height="11.444" fill="#3ca23c"/>
<rect x="351.766" y="167.333" width="1.963" height="11.444" fill="#3ca23c"/>
<rect x="353.729" y="167.333" width="1.963" height="11.444" fill="#3ca23c"/>
<rect x="408.682" y="167.333" width="1.963" height="11.444" fill="#3ca23c"/>
<rect x="420.458" y="167.333" width="1.963" height="11.444" fill="#3ca23c"/>
<rect x="422.421" y="167.333" width="1.963" height="11.444" fill="#3ca23c"/>
<rect x="424.383" y="167.333" width="1.963" height="11.444" fill="#3ca23c"/>
<rect x="436.159" y="167.333" width="1.963" height="11.444" fill="#3ca23c"/>
<rect x="463.636" y="167.333" width="1.963" height="11.444" fill="#3ca23c"/>
<rect x="465.598" y="167.333" width="1.963" height="11.444" fill="#3ca23c"/>
<rect x="467.561" y="167.333" width="1.963" height="11.444" fill="#3ca23c"/>
<rect x="469.523" y="167.333" width="1.963" height="11.444" fill="#3ca23c"/>
<rect x="471.486" y="167.333" width="1.963" height="11.444" fill="#3ca23c"/>
<rect x="392.981" y="178.778" width="1.963" height="11.444" fill="#3ca23c"/>
<rect x="410.645" y="178.778" width="1.963" height="11.444" fill="#3ca23c"/>
<rect x="416.533" y="178.778" width="1.963" height="11.444" fill="#3ca23c"/>
<rect x="467.561" y="178.778" width="1.963" height="11.444" fill="#3ca23c"/>
<rect x="483.262" y="178.778" width="1.963" height="11.444" fill="#3ca23c"/>
<rect x="347.841" y="190.222" width="1.963" height="11.444" fill="#b06a28"/>
<rect x="359.617" y="190.222" width="1.963" height="11.444" fill="#3ca23c"/>
<rect x="418.495" y="190.222" width="1.963" height="11.444" fill="#3ca23c"/>
<rect x="445.972" y="190.222" width="1.963" height="11.444" fill="#3ca23c"/>
<rect x="493.075" y="190.222" width="1.963" height="11.444" fill="#3ca23c"/>
<rect x="432.234" y="201.667" width="1.963" height="11.444" fill="#3ca23c"/>
<rect x="493.075" y="201.667" width="1.963" height="11.444" fill="#3ca23c"/>
<path d="M288.963 30.0V236.0M290.925 30.0V236.0M292.888 30.0V236.0M294.850 30.0V236.0M296.813 30.0V236.0M298.776 30.0V236.0M300.738 30.0V236.0M302.701 30.0V236.0M304.664 30.0V236.0M306.626 30.0V236.0M308.589 30.0V236.0M310.551 30.0V236.0M312.514 30.0V236.0M314.477 30.0V236.0M316.439 30.0V236.0M318.402 30.0V236.0M320.364 30.0V236.0M322.327 30.0V236.0M324.290 30.0V236.0M326.252 30.0V236.0M328.215 30.0V236.0M330.178 30.0V236.0M332.140 30.0V236.0M334.103 30.0V236.0M336.065 30.0V236.0M338.028 30.0V236.0M339.991 30.0V236.0M341.953 30.0V236.0M343.916 30.0V236.0M345.879 30.0V236.0M347.841 30.0V236.0M349.804 30.0V236.0M351.766 30.0V236.0M353.729 30.0V236.0M355.692 30.0V236.0M357.654 30.0V236.0M359.617 30.0V236.0M361.579 30.0V236.0M363.542 30.0V236.0M365.505 30.0V236.0M367.467 30.0V236.0M369.430 30.0V236.0M371.393 30.0V236.0M373.355 30.0V236.0M375.318 30.0V236.0M377.280 30.0V236.0M379.243 30.0V236.0M381.206 30.0V236.0M383.168 30.0V236.0M385.131 30.0V236.0M387.093 30.0V236.0M389.056 30.0V236.0M391.019 30.0V236.0M392.981 30.0V236.0M394.944 30.0V236.0M396.907 30.0V236.0M398.869 30.0V236.0M400.832 30.0V236.0M402.794 30.0V236.0M404.757 30.0V236.0M406.720 30.0V236.0M408.682 30.0V236.0M410.645 30.0V236.0M412.607 30.0V236.0M414.570 30.0V236.0M416.533 30.0V236.0M418.495 30.0V236.0M420.458 30.0V236.0M422.421 30.0V236.0M424.383 30.0V236.0M426.346 30.0V236.0M428.308 30.0V236.0M430.271 30.0V236.0M432.234 30.0V236.0M434.196 30.0V236.0M436.159 30.0V236.0M438.121 30.0V236.0M440.084 30.0V236.0M442.047 30.0V236.0M444.009 30.0V236.0M445.972 30.0V236.0M447.935 30.0V236.0M449.897 30.0V236.0M451.860 30.0V236.0M453.822 30.0V236.0M455.785 30.0V236.0M457.748 30.0V236.0M459.710 30.0V236.0M461.673 30.0V236.0M463.636 30.0V236.0M465.598 30.0V236.0M467.561 30.0V236.0M469.523 30.0V236.0M471.486 30.0V236.0M473.449 30.0V236.0M475.411 30.0V236.0M477.374 30.0V236.0M479.336 30.0V236.0M481.299 30.0V236.0M483.262 30.0V236.0M485.224 30.0V236.0M487.187 30.0V236.0M489.150 30.0V236.0M491.112 30.0V236.0M493.075 30.0V236.0M495.037 30.0V236.0" stroke="#fff" stroke-width="0.45" stroke-opacity="0.3"/>
<path d="M287.0 41.444H497.0M287.0 52.889H497.0M287.0 64.333H497.0M287.0 75.778H497.0M287.0 87.222H497.0M287.0 98.667H497.0M287.0 110.111H497.0M287.0 121.556H497.0M287.0 133.000H497.0M287.0 144.444H497.0M287.0 155.889H497.0M287.0 167.333H497.0M287.0 178.778H497.0M287.0 190.222H497.0M287.0 201.667H497.0M287.0 213.111H497.0M287.0 224.556H497.0" stroke="#fff" stroke-width="0.8" stroke-opacity="0.45"/>
</g>
<text x="19.42" y="37.67" font-size="7.0" textLength="9.31" lengthAdjust="spacingAndGlyphs" fill="#1c1c1c" stroke="#1c1c1c" stroke-width="0.18">1%</text>
<text x="254.46" y="37.72" font-size="7.0" font-style="italic" textLength="20.45" lengthAdjust="spacingAndGlyphs" fill="#1c1c1c" stroke="#1c1c1c" stroke-width="0.18">GNAI2</text>
<text x="499.81" y="37.67" font-size="7.0" textLength="9.31" lengthAdjust="spacingAndGlyphs" fill="#1c1c1c" stroke="#1c1c1c" stroke-width="0.18">9%</text>
<text x="19.42" y="49.12" font-size="7.0" textLength="9.31" lengthAdjust="spacingAndGlyphs" fill="#1c1c1c" stroke="#1c1c1c" stroke-width="0.18">1%</text>
<text x="256.45" y="49.17" font-size="7.0" font-style="italic" textLength="17.08" lengthAdjust="spacingAndGlyphs" fill="#1c1c1c" stroke="#1c1c1c" stroke-width="0.18">DTX1</text>
<text x="499.81" y="49.12" font-size="7.0" textLength="9.31" lengthAdjust="spacingAndGlyphs" fill="#1c1c1c" stroke="#1c1c1c" stroke-width="0.18">8%</text>
<text x="19.42" y="60.56" font-size="7.0" textLength="9.31" lengthAdjust="spacingAndGlyphs" fill="#1c1c1c" stroke="#1c1c1c" stroke-width="0.18">2%</text>
<text x="253.95" y="60.61" font-size="7.0" font-style="italic" textLength="21.72" lengthAdjust="spacingAndGlyphs" fill="#1c1c1c" stroke="#1c1c1c" stroke-width="0.18">MEF2B</text>
<text x="499.62" y="60.56" font-size="7.0" textLength="12.89" lengthAdjust="spacingAndGlyphs" fill="#1c1c1c" stroke="#1c1c1c" stroke-width="0.18">15%</text>
<text x="19.42" y="72.01" font-size="7.0" textLength="9.31" lengthAdjust="spacingAndGlyphs" fill="#1c1c1c" stroke="#1c1c1c" stroke-width="0.18">1%</text>
<text x="255.07" y="72.06" font-size="7.0" font-style="italic" textLength="19.40" lengthAdjust="spacingAndGlyphs" fill="#1c1c1c" stroke="#1c1c1c" stroke-width="0.18">S1PR2</text>
<text x="499.78" y="72.01" font-size="7.0" textLength="9.31" lengthAdjust="spacingAndGlyphs" fill="#1c1c1c" stroke="#1c1c1c" stroke-width="0.18">7%</text>
<text x="19.42" y="83.45" font-size="7.0" textLength="9.31" lengthAdjust="spacingAndGlyphs" fill="#1c1c1c" stroke="#1c1c1c" stroke-width="0.18">1%</text>
<text x="252.87" y="83.50" font-size="7.0" font-style="italic" textLength="24.51" lengthAdjust="spacingAndGlyphs" fill="#1c1c1c" stroke="#1c1c1c" stroke-width="0.18">ZFP36L1</text>
<text x="499.78" y="83.45" font-size="7.0" textLength="9.31" lengthAdjust="spacingAndGlyphs" fill="#1c1c1c" stroke="#1c1c1c" stroke-width="0.18">7%</text>
<text x="19.42" y="94.89" font-size="7.0" textLength="9.31" lengthAdjust="spacingAndGlyphs" fill="#1c1c1c" stroke="#1c1c1c" stroke-width="0.18">2%</text>
<text x="253.75" y="94.94" font-size="7.0" font-style="italic" textLength="22.46" lengthAdjust="spacingAndGlyphs" fill="#1c1c1c" stroke="#1c1c1c" stroke-width="0.18">HVCN1</text>
<text x="499.62" y="94.89" font-size="7.0" textLength="12.89" lengthAdjust="spacingAndGlyphs" fill="#1c1c1c" stroke="#1c1c1c" stroke-width="0.18">12%</text>
<text x="19.42" y="106.34" font-size="7.0" textLength="9.31" lengthAdjust="spacingAndGlyphs" fill="#1c1c1c" stroke="#1c1c1c" stroke-width="0.18">2%</text>
<text x="255.16" y="106.39" font-size="7.0" font-style="italic" textLength="19.10" lengthAdjust="spacingAndGlyphs" fill="#1c1c1c" stroke="#1c1c1c" stroke-width="0.18">KLHL6</text>
<text x="499.62" y="106.34" font-size="7.0" textLength="12.41" lengthAdjust="spacingAndGlyphs" fill="#1c1c1c" stroke="#1c1c1c" stroke-width="0.18">11%</text>
<text x="19.42" y="117.78" font-size="7.0" textLength="9.31" lengthAdjust="spacingAndGlyphs" fill="#1c1c1c" stroke="#1c1c1c" stroke-width="0.18">6%</text>
<text x="258.26" y="117.83" font-size="7.0" font-style="italic" textLength="12.88" lengthAdjust="spacingAndGlyphs" fill="#1c1c1c" stroke="#1c1c1c" stroke-width="0.18">IRF8</text>
<text x="499.78" y="117.78" font-size="7.0" textLength="12.89" lengthAdjust="spacingAndGlyphs" fill="#1c1c1c" stroke="#1c1c1c" stroke-width="0.18">23%</text>
<text x="19.42" y="129.23" font-size="7.0" textLength="9.31" lengthAdjust="spacingAndGlyphs" fill="#1c1c1c" stroke="#1c1c1c" stroke-width="0.18">4%</text>
<text x="254.31" y="129.28" font-size="7.0" font-style="italic" textLength="21.32" lengthAdjust="spacingAndGlyphs" fill="#1c1c1c" stroke="#1c1c1c" stroke-width="0.18">SOCS1</text>
<text x="499.62" y="129.23" font-size="7.0" textLength="12.89" lengthAdjust="spacingAndGlyphs" fill="#1c1c1c" stroke="#1c1c1c" stroke-width="0.18">16%</text>
<text x="15.85" y="140.67" font-size="7.0" textLength="12.89" lengthAdjust="spacingAndGlyphs" fill="#1c1c1c" stroke="#1c1c1c" stroke-width="0.18">21%</text>
<text x="249.20" y="140.72" font-size="7.0" font-style="italic" textLength="30.87" lengthAdjust="spacingAndGlyphs" fill="#1c1c1c" stroke="#1c1c1c" stroke-width="0.18">TNFRSF14</text>
<text x="499.84" y="140.67" font-size="7.0" textLength="12.89" lengthAdjust="spacingAndGlyphs" fill="#1c1c1c" stroke="#1c1c1c" stroke-width="0.18">53%</text>
<text x="19.42" y="152.12" font-size="7.0" textLength="9.31" lengthAdjust="spacingAndGlyphs" fill="#1c1c1c" stroke="#1c1c1c" stroke-width="0.18">8%</text>
<text x="251.98" y="152.17" font-size="7.0" font-style="italic" textLength="25.85" lengthAdjust="spacingAndGlyphs" fill="#1c1c1c" stroke="#1c1c1c" stroke-width="0.18">CARD11</text>
<text x="499.62" y="152.12" font-size="7.0" textLength="12.89" lengthAdjust="spacingAndGlyphs" fill="#1c1c1c" stroke="#1c1c1c" stroke-width="0.18">19%</text>
<text x="15.85" y="163.56" font-size="7.0" textLength="12.89" lengthAdjust="spacingAndGlyphs" fill="#1c1c1c" stroke="#1c1c1c" stroke-width="0.18">15%</text>
<text x="256.71" y="163.61" font-size="7.0" font-style="italic" textLength="16.09" lengthAdjust="spacingAndGlyphs" fill="#1c1c1c" stroke="#1c1c1c" stroke-width="0.18">EZH2</text>
<text x="499.84" y="163.56" font-size="7.0" textLength="12.89" lengthAdjust="spacingAndGlyphs" fill="#1c1c1c" stroke="#1c1c1c" stroke-width="0.18">31%</text>
<text x="16.30" y="175.01" font-size="7.0" textLength="12.41" lengthAdjust="spacingAndGlyphs" fill="#1c1c1c" stroke="#1c1c1c" stroke-width="0.18">11%</text>
<text x="255.46" y="175.06" font-size="7.0" font-style="italic" textLength="18.51" lengthAdjust="spacingAndGlyphs" fill="#1c1c1c" stroke="#1c1c1c" stroke-width="0.18">STAT6</text>
<text x="499.78" y="175.01" font-size="7.0" textLength="12.89" lengthAdjust="spacingAndGlyphs" fill="#1c1c1c" stroke="#1c1c1c" stroke-width="0.18">23%</text>
<text x="15.85" y="186.45" font-size="7.0" textLength="12.89" lengthAdjust="spacingAndGlyphs" fill="#1c1c1c" stroke="#1c1c1c" stroke-width="0.18">19%</text>
<text x="249.71" y="186.50" font-size="7.0" font-style="italic" textLength="30.60" lengthAdjust="spacingAndGlyphs" fill="#1c1c1c" stroke="#1c1c1c" stroke-width="0.18">ATP6V1B2</text>
<text x="499.84" y="186.45" font-size="7.0" textLength="9.31" lengthAdjust="spacingAndGlyphs" fill="#1c1c1c" stroke="#1c1c1c" stroke-width="0.18">5%</text>
<text x="15.85" y="197.89" font-size="7.0" textLength="12.89" lengthAdjust="spacingAndGlyphs" fill="#1c1c1c" stroke="#1c1c1c" stroke-width="0.18">19%</text>
<text x="253.57" y="197.94" font-size="7.0" font-style="italic" textLength="22.26" lengthAdjust="spacingAndGlyphs" fill="#1c1c1c" stroke="#1c1c1c" stroke-width="0.18">RRAGC</text>
<text x="499.84" y="197.89" font-size="7.0" textLength="9.31" lengthAdjust="spacingAndGlyphs" fill="#1c1c1c" stroke="#1c1c1c" stroke-width="0.18">5%</text>
<text x="15.85" y="209.34" font-size="7.0" textLength="12.89" lengthAdjust="spacingAndGlyphs" fill="#1c1c1c" stroke="#1c1c1c" stroke-width="0.18">14%</text>
<text x="251.37" y="209.39" font-size="7.0" font-style="italic" textLength="27.74" lengthAdjust="spacingAndGlyphs" fill="#1c1c1c" stroke="#1c1c1c" stroke-width="0.18">ATP6AP1</text>
<text x="499.78" y="209.34" font-size="7.0" textLength="9.31" lengthAdjust="spacingAndGlyphs" fill="#1c1c1c" stroke="#1c1c1c" stroke-width="0.18">2%</text>
<text x="19.42" y="220.78" font-size="7.0" textLength="9.31" lengthAdjust="spacingAndGlyphs" fill="#1c1c1c" stroke="#1c1c1c" stroke-width="0.18">9%</text>
<text x="253.73" y="220.83" font-size="7.0" font-style="italic" textLength="22.14" lengthAdjust="spacingAndGlyphs" fill="#1c1c1c" stroke="#1c1c1c" stroke-width="0.18">VMA21</text>
<text x="499.84" y="220.78" font-size="7.0" textLength="9.31" lengthAdjust="spacingAndGlyphs" fill="#1c1c1c" stroke="#1c1c1c" stroke-width="0.18">0%</text>
<text x="19.42" y="232.23" font-size="7.0" textLength="9.31" lengthAdjust="spacingAndGlyphs" fill="#1c1c1c" stroke="#1c1c1c" stroke-width="0.18">8%</text>
<text x="254.06" y="232.28" font-size="7.0" font-style="italic" textLength="21.34" lengthAdjust="spacingAndGlyphs" fill="#1c1c1c" stroke="#1c1c1c" stroke-width="0.18">UBE2A</text>
<text x="499.84" y="232.23" font-size="7.0" textLength="9.31" lengthAdjust="spacingAndGlyphs" fill="#1c1c1c" stroke="#1c1c1c" stroke-width="0.18">0%</text>
<rect x="189" y="244.00" width="6.1" height="6.4" fill="#3a9a3a"/>
<text x="198.27" y="249.20" font-size="6.6" textLength="56.96" lengthAdjust="spacingAndGlyphs" fill="#1c1c1c" stroke="#1c1c1c" stroke-width="0.18">Missense_Mutation</text>
<rect x="189" y="254.25" width="6.1" height="6.4" fill="#4a1f66"/>
<text x="198.29" y="259.45" font-size="6.6" textLength="47.05" lengthAdjust="spacingAndGlyphs" fill="#1c1c1c" stroke="#1c1c1c" stroke-width="0.18">Frame_Shift_Ins</text>
<rect x="189" y="264.50" width="6.1" height="6.4" fill="#e0901e"/>
<text x="198.51" y="269.70" font-size="6.6" textLength="32.10" lengthAdjust="spacingAndGlyphs" fill="#1c1c1c" stroke="#1c1c1c" stroke-width="0.18">Splice_Site</text>
<rect x="189" y="274.75" width="6.1" height="6.4" fill="#2ea0e0"/>
<text x="198.28" y="279.95" font-size="6.6" textLength="48.97" lengthAdjust="spacingAndGlyphs" fill="#1c1c1c" stroke="#1c1c1c" stroke-width="0.18">Frame_Shift_Del</text>
<rect x="189" y="285.00" width="6.1" height="6.4" fill="#a8102a"/>
<text x="198.26" y="290.20" font-size="6.6" textLength="59.77" lengthAdjust="spacingAndGlyphs" fill="#1c1c1c" stroke="#1c1c1c" stroke-width="0.18">Nonsense_Mutation</text>
<rect x="267" y="244.00" width="6.1" height="6.4" fill="#5a3012"/>
<text x="276.47" y="249.20" font-size="6.6" textLength="63.53" lengthAdjust="spacingAndGlyphs" fill="#1c1c1c" stroke="#1c1c1c" stroke-width="0.18">Translation_Start_Site</text>
<rect x="267" y="254.25" width="6.1" height="6.4" fill="#8878c0"/>
<text x="276.05" y="259.45" font-size="6.6" textLength="56.11" lengthAdjust="spacingAndGlyphs" fill="#1c1c1c" stroke="#1c1c1c" stroke-width="0.18">Nonstop_Mutation</text>
<rect x="267" y="264.50" width="6.1" height="6.4" fill="#a8621e"/>
<text x="276.03" y="269.70" font-size="6.6" textLength="39.29" lengthAdjust="spacingAndGlyphs" fill="#1c1c1c" stroke="#1c1c1c" stroke-width="0.18">In_Frame_Ins</text>
<rect x="267" y="274.75" width="6.1" height="6.4" fill="#f0c010"/>
<text x="276.01" y="279.95" font-size="6.6" textLength="41.32" lengthAdjust="spacingAndGlyphs" fill="#1c1c1c" stroke="#1c1c1c" stroke-width="0.18">In_Frame_Del</text>
<rect x="267" y="285.00" width="6.1" height="6.4" fill="#3e4866"/>
<text x="276.05" y="290.20" font-size="6.6" textLength="26.82" lengthAdjust="spacingAndGlyphs" fill="#1c1c1c" stroke="#1c1c1c" stroke-width="0.18">Multi_Hit</text>
<text x="111.93" y="328.50" font-size="6.8" font-weight="bold" textLength="131.01" lengthAdjust="spacingAndGlyphs" fill="#141414" stroke="#141414" stroke-width="0.22">GCB-like (n = 107) v/s Mem-like (n = 123)</text>
<text x="261.63" y="328.50" font-size="6.8" font-weight="bold" textLength="28.22" lengthAdjust="spacingAndGlyphs" fill="#141414" stroke="#141414" stroke-width="0.22">GCB-like</text>
<text x="305.34" y="328.50" font-size="6.8" font-weight="bold" textLength="30.00" lengthAdjust="spacingAndGlyphs" fill="#141414" stroke="#141414" stroke-width="0.22">Mem-like</text>
<text x="354.76" y="328.50" font-size="6.8" font-weight="bold" textLength="9.11" lengthAdjust="spacingAndGlyphs" fill="#141414" stroke="#141414" stroke-width="0.22">OR</text>
<text x="382.88" y="328.50" font-size="6.8" font-weight="bold" textLength="22.86" lengthAdjust="spacingAndGlyphs" fill="#141414" stroke="#141414" stroke-width="0.22"><tspan font-style="italic">P</tspan>-value</text>
<line x1="137.9" y1="335.8" x2="137.9" y2="525" stroke="#222" stroke-width="1.45" stroke-dasharray="1.45 2.95"/>
<text x="215.46" y="345.70" font-size="7.0" font-style="italic" textLength="20.25" lengthAdjust="spacingAndGlyphs" fill="#1c1c1c" stroke="#1c1c1c" stroke-width="0.18">GNAI2</text>
<text x="272.36" y="345.70" font-size="7.0" textLength="7.24" lengthAdjust="spacingAndGlyphs" fill="#1c1c1c" stroke="#1c1c1c" stroke-width="0.18">10</text>
<text x="318.60" y="345.70" font-size="7.0" textLength="3.62" lengthAdjust="spacingAndGlyphs" fill="#1c1c1c" stroke="#1c1c1c" stroke-width="0.18">1</text>
<text x="352.97" y="345.70" font-size="7.0" textLength="12.67" lengthAdjust="spacingAndGlyphs" fill="#1c1c1c" stroke="#1c1c1c" stroke-width="0.18">0.08</text>
<text x="391.73" y="345.30" font-size="6.6" textLength="5.14" lengthAdjust="spacingAndGlyphs" fill="#222" stroke="#222" stroke-width="0.05">**</text>
<line x1="111.83" y1="343.40" x2="126.91" y2="343.40" stroke="#98364f" stroke-width="0.95"/>
<circle cx="113.42" cy="343.40" r="1.85" fill="#3a0814"/>
<text x="215.60" y="356.09" font-size="7.0" font-style="italic" textLength="16.91" lengthAdjust="spacingAndGlyphs" fill="#1c1c1c" stroke="#1c1c1c" stroke-width="0.18">DTX1</text>
<text x="274.29" y="356.09" font-size="7.0" textLength="3.62" lengthAdjust="spacingAndGlyphs" fill="#1c1c1c" stroke="#1c1c1c" stroke-width="0.18">9</text>
<text x="318.60" y="356.09" font-size="7.0" textLength="3.62" lengthAdjust="spacingAndGlyphs" fill="#1c1c1c" stroke="#1c1c1c" stroke-width="0.18">1</text>
<text x="352.99" y="356.09" font-size="7.0" textLength="12.67" lengthAdjust="spacingAndGlyphs" fill="#1c1c1c" stroke="#1c1c1c" stroke-width="0.18">0.09</text>
<text x="391.73" y="355.69" font-size="6.6" textLength="5.14" lengthAdjust="spacingAndGlyphs" fill="#222" stroke="#222" stroke-width="0.05">**</text>
<line x1="111.83" y1="353.79" x2="129.29" y2="353.79" stroke="#98364f" stroke-width="0.95"/>
<circle cx="113.68" cy="353.79" r="1.85" fill="#3a0814"/>
<text x="215.61" y="366.48" font-size="7.0" font-style="italic" textLength="21.50" lengthAdjust="spacingAndGlyphs" fill="#1c1c1c" stroke="#1c1c1c" stroke-width="0.18">MEF2B</text>
<text x="272.37" y="366.48" font-size="7.0" textLength="7.24" lengthAdjust="spacingAndGlyphs" fill="#1c1c1c" stroke="#1c1c1c" stroke-width="0.18">16</text>
<text x="318.69" y="366.48" font-size="7.0" textLength="3.62" lengthAdjust="spacingAndGlyphs" fill="#1c1c1c" stroke="#1c1c1c" stroke-width="0.18">2</text>
<text x="351.16" y="366.48" font-size="7.0" textLength="16.29" lengthAdjust="spacingAndGlyphs" fill="#1c1c1c" stroke="#1c1c1c" stroke-width="0.18">0.095</text>
<text x="390.44" y="366.08" font-size="6.6" textLength="7.70" lengthAdjust="spacingAndGlyphs" fill="#222" stroke="#222" stroke-width="0.05">***</text>
<line x1="111.83" y1="364.18" x2="122.67" y2="364.18" stroke="#98364f" stroke-width="0.95"/>
<circle cx="113.81" cy="364.18" r="1.85" fill="#3a0814"/>
<text x="215.62" y="376.87" font-size="7.0" font-style="italic" textLength="19.20" lengthAdjust="spacingAndGlyphs" fill="#1c1c1c" stroke="#1c1c1c" stroke-width="0.18">S1PR2</text>
<text x="274.29" y="376.87" font-size="7.0" textLength="3.62" lengthAdjust="spacingAndGlyphs" fill="#1c1c1c" stroke="#1c1c1c" stroke-width="0.18">7</text>
<text x="318.60" y="376.87" font-size="7.0" textLength="3.62" lengthAdjust="spacingAndGlyphs" fill="#1c1c1c" stroke="#1c1c1c" stroke-width="0.18">1</text>
<text x="351.41" y="376.87" font-size="7.0" textLength="15.81" lengthAdjust="spacingAndGlyphs" fill="#1c1c1c" stroke="#1c1c1c" stroke-width="0.18">0.118</text>
<text x="393.01" y="376.47" font-size="6.6" textLength="2.57" lengthAdjust="spacingAndGlyphs" fill="#222" stroke="#222" stroke-width="0.05">*</text>
<line x1="111.56" y1="374.57" x2="136.96" y2="374.57" stroke="#98364f" stroke-width="0.95"/>
<circle cx="114.42" cy="374.57" r="1.85" fill="#3a0814"/>
<text x="215.92" y="387.26" font-size="7.0" font-style="italic" textLength="24.26" lengthAdjust="spacingAndGlyphs" fill="#1c1c1c" stroke="#1c1c1c" stroke-width="0.18">ZFP36L1</text>
<text x="274.29" y="387.26" font-size="7.0" textLength="3.62" lengthAdjust="spacingAndGlyphs" fill="#1c1c1c" stroke="#1c1c1c" stroke-width="0.18">7</text>
<text x="318.60" y="387.26" font-size="7.0" textLength="3.62" lengthAdjust="spacingAndGlyphs" fill="#1c1c1c" stroke="#1c1c1c" stroke-width="0.18">1</text>
<text x="351.41" y="387.26" font-size="7.0" textLength="15.81" lengthAdjust="spacingAndGlyphs" fill="#1c1c1c" stroke="#1c1c1c" stroke-width="0.18">0.118</text>
<text x="393.01" y="386.86" font-size="6.6" textLength="2.57" lengthAdjust="spacingAndGlyphs" fill="#222" stroke="#222" stroke-width="0.05">*</text>
<line x1="111.56" y1="384.96" x2="136.96" y2="384.96" stroke="#98364f" stroke-width="0.95"/>
<circle cx="114.42" cy="384.96" r="1.85" fill="#3a0814"/>
<text x="215.60" y="397.65" font-size="7.0" font-style="italic" textLength="22.24" lengthAdjust="spacingAndGlyphs" fill="#1c1c1c" stroke="#1c1c1c" stroke-width="0.18">HVCN1</text>
<text x="272.37" y="397.65" font-size="7.0" textLength="7.24" lengthAdjust="spacingAndGlyphs" fill="#1c1c1c" stroke="#1c1c1c" stroke-width="0.18">13</text>
<text x="318.69" y="397.65" font-size="7.0" textLength="3.62" lengthAdjust="spacingAndGlyphs" fill="#1c1c1c" stroke="#1c1c1c" stroke-width="0.18">3</text>
<text x="351.20" y="397.65" font-size="7.0" textLength="16.29" lengthAdjust="spacingAndGlyphs" fill="#1c1c1c" stroke="#1c1c1c" stroke-width="0.18">0.182</text>
<text x="391.73" y="397.25" font-size="6.6" textLength="5.14" lengthAdjust="spacingAndGlyphs" fill="#222" stroke="#222" stroke-width="0.05">**</text>
<line x1="112.09" y1="395.35" x2="130.34" y2="395.35" stroke="#98364f" stroke-width="0.95"/>
<circle cx="116.11" cy="395.35" r="1.85" fill="#3a0814"/>
<text x="215.61" y="408.04" font-size="7.0" font-style="italic" textLength="18.91" lengthAdjust="spacingAndGlyphs" fill="#1c1c1c" stroke="#1c1c1c" stroke-width="0.18">KLHL6</text>
<text x="272.41" y="408.04" font-size="7.0" textLength="7.24" lengthAdjust="spacingAndGlyphs" fill="#1c1c1c" stroke="#1c1c1c" stroke-width="0.18">12</text>
<text x="318.69" y="408.04" font-size="7.0" textLength="3.62" lengthAdjust="spacingAndGlyphs" fill="#1c1c1c" stroke="#1c1c1c" stroke-width="0.18">3</text>
<text x="351.18" y="408.04" font-size="7.0" textLength="16.29" lengthAdjust="spacingAndGlyphs" fill="#1c1c1c" stroke="#1c1c1c" stroke-width="0.18">0.199</text>
<text x="393.01" y="407.64" font-size="6.6" textLength="2.57" lengthAdjust="spacingAndGlyphs" fill="#222" stroke="#222" stroke-width="0.05">*</text>
<line x1="112.09" y1="405.74" x2="132.20" y2="405.74" stroke="#98364f" stroke-width="0.95"/>
<circle cx="116.56" cy="405.74" r="1.85" fill="#3a0814"/>
<text x="215.56" y="418.43" font-size="7.0" font-style="italic" textLength="12.75" lengthAdjust="spacingAndGlyphs" fill="#1c1c1c" stroke="#1c1c1c" stroke-width="0.18">IRF8</text>
<text x="272.45" y="418.43" font-size="7.0" textLength="7.24" lengthAdjust="spacingAndGlyphs" fill="#1c1c1c" stroke="#1c1c1c" stroke-width="0.18">25</text>
<text x="318.69" y="418.43" font-size="7.0" textLength="3.62" lengthAdjust="spacingAndGlyphs" fill="#1c1c1c" stroke="#1c1c1c" stroke-width="0.18">7</text>
<text x="351.18" y="418.43" font-size="7.0" textLength="16.29" lengthAdjust="spacingAndGlyphs" fill="#1c1c1c" stroke="#1c1c1c" stroke-width="0.18">0.199</text>
<text x="390.44" y="418.03" font-size="6.6" textLength="7.70" lengthAdjust="spacingAndGlyphs" fill="#222" stroke="#222" stroke-width="0.05">***</text>
<line x1="113.15" y1="416.13" x2="125.05" y2="416.13" stroke="#98364f" stroke-width="0.95"/>
<circle cx="116.56" cy="416.13" r="1.85" fill="#3a0814"/>
<text x="215.61" y="428.82" font-size="7.0" font-style="italic" textLength="21.11" lengthAdjust="spacingAndGlyphs" fill="#1c1c1c" stroke="#1c1c1c" stroke-width="0.18">SOCS1</text>
<text x="272.41" y="428.82" font-size="7.0" textLength="7.24" lengthAdjust="spacingAndGlyphs" fill="#1c1c1c" stroke="#1c1c1c" stroke-width="0.18">17</text>
<text x="318.69" y="428.82" font-size="7.0" textLength="3.62" lengthAdjust="spacingAndGlyphs" fill="#1c1c1c" stroke="#1c1c1c" stroke-width="0.18">5</text>
<text x="351.16" y="428.82" font-size="7.0" textLength="16.29" lengthAdjust="spacingAndGlyphs" fill="#1c1c1c" stroke="#1c1c1c" stroke-width="0.18">0.226</text>
<text x="391.73" y="428.42" font-size="6.6" textLength="5.14" lengthAdjust="spacingAndGlyphs" fill="#222" stroke="#222" stroke-width="0.05">**</text>
<line x1="112.89" y1="426.52" x2="130.08" y2="426.52" stroke="#98364f" stroke-width="0.95"/>
<circle cx="117.28" cy="426.52" r="1.85" fill="#3a0814"/>
<text x="215.26" y="439.21" font-size="7.0" font-style="italic" textLength="30.56" lengthAdjust="spacingAndGlyphs" fill="#1c1c1c" stroke="#1c1c1c" stroke-width="0.18">TNFRSF14</text>
<text x="272.52" y="439.21" font-size="7.0" textLength="7.24" lengthAdjust="spacingAndGlyphs" fill="#1c1c1c" stroke="#1c1c1c" stroke-width="0.18">57</text>
<text x="316.85" y="439.21" font-size="7.0" textLength="7.24" lengthAdjust="spacingAndGlyphs" fill="#1c1c1c" stroke="#1c1c1c" stroke-width="0.18">26</text>
<text x="351.20" y="439.21" font-size="7.0" textLength="16.29" lengthAdjust="spacingAndGlyphs" fill="#1c1c1c" stroke="#1c1c1c" stroke-width="0.18">0.237</text>
<text x="390.44" y="438.81" font-size="6.6" textLength="7.70" lengthAdjust="spacingAndGlyphs" fill="#222" stroke="#222" stroke-width="0.05">***</text>
<line x1="114.74" y1="436.91" x2="122.94" y2="436.91" stroke="#98364f" stroke-width="0.95"/>
<circle cx="117.57" cy="436.91" r="1.85" fill="#3a0814"/>
<text x="215.44" y="449.60" font-size="7.0" font-style="italic" textLength="25.59" lengthAdjust="spacingAndGlyphs" fill="#1c1c1c" stroke="#1c1c1c" stroke-width="0.18">CARD11</text>
<text x="272.44" y="449.60" font-size="7.0" textLength="7.24" lengthAdjust="spacingAndGlyphs" fill="#1c1c1c" stroke="#1c1c1c" stroke-width="0.18">20</text>
<text x="316.76" y="449.60" font-size="7.0" textLength="7.24" lengthAdjust="spacingAndGlyphs" fill="#1c1c1c" stroke="#1c1c1c" stroke-width="0.18">10</text>
<text x="351.20" y="449.60" font-size="7.0" textLength="16.29" lengthAdjust="spacingAndGlyphs" fill="#1c1c1c" stroke="#1c1c1c" stroke-width="0.18">0.387</text>
<text x="393.01" y="449.20" font-size="6.6" textLength="2.57" lengthAdjust="spacingAndGlyphs" fill="#222" stroke="#222" stroke-width="0.05">*</text>
<line x1="115.27" y1="447.30" x2="135.63" y2="447.30" stroke="#98364f" stroke-width="0.95"/>
<circle cx="121.54" cy="447.30" r="1.85" fill="#3a0814"/>
<text x="215.61" y="459.99" font-size="7.0" font-style="italic" textLength="15.93" lengthAdjust="spacingAndGlyphs" fill="#1c1c1c" stroke="#1c1c1c" stroke-width="0.18">EZH2</text>
<text x="272.49" y="459.99" font-size="7.0" textLength="7.24" lengthAdjust="spacingAndGlyphs" fill="#1c1c1c" stroke="#1c1c1c" stroke-width="0.18">33</text>
<text x="316.79" y="459.99" font-size="7.0" textLength="7.24" lengthAdjust="spacingAndGlyphs" fill="#1c1c1c" stroke="#1c1c1c" stroke-width="0.18">19</text>
<text x="351.42" y="459.99" font-size="7.0" textLength="15.81" lengthAdjust="spacingAndGlyphs" fill="#1c1c1c" stroke="#1c1c1c" stroke-width="0.18">0.411</text>
<text x="391.73" y="459.59" font-size="6.6" textLength="5.14" lengthAdjust="spacingAndGlyphs" fill="#222" stroke="#222" stroke-width="0.05">**</text>
<line x1="116.59" y1="457.69" x2="132.72" y2="457.69" stroke="#98364f" stroke-width="0.95"/>
<circle cx="122.17" cy="457.69" r="1.85" fill="#3a0814"/>
<text x="215.61" y="470.38" font-size="7.0" font-style="italic" textLength="18.32" lengthAdjust="spacingAndGlyphs" fill="#1c1c1c" stroke="#1c1c1c" stroke-width="0.18">STAT6</text>
<text x="272.45" y="470.38" font-size="7.0" textLength="7.24" lengthAdjust="spacingAndGlyphs" fill="#1c1c1c" stroke="#1c1c1c" stroke-width="0.18">25</text>
<text x="316.74" y="470.38" font-size="7.0" textLength="7.24" lengthAdjust="spacingAndGlyphs" fill="#1c1c1c" stroke="#1c1c1c" stroke-width="0.18">14</text>
<text x="351.16" y="470.38" font-size="7.0" textLength="16.29" lengthAdjust="spacingAndGlyphs" fill="#1c1c1c" stroke="#1c1c1c" stroke-width="0.18">0.423</text>
<text x="393.01" y="469.98" font-size="6.6" textLength="2.57" lengthAdjust="spacingAndGlyphs" fill="#222" stroke="#222" stroke-width="0.05">*</text>
<line x1="116.06" y1="468.08" x2="135.63" y2="468.08" stroke="#98364f" stroke-width="0.95"/>
<circle cx="122.49" cy="468.08" r="1.85" fill="#3a0814"/>
<text x="216.11" y="480.77" font-size="7.0" font-style="italic" textLength="30.29" lengthAdjust="spacingAndGlyphs" fill="#1c1c1c" stroke="#1c1c1c" stroke-width="0.18">ATP6V1B2</text>
<text x="274.29" y="480.77" font-size="7.0" textLength="3.62" lengthAdjust="spacingAndGlyphs" fill="#1c1c1c" stroke="#1c1c1c" stroke-width="0.18">5</text>
<text x="316.85" y="480.77" font-size="7.0" textLength="7.24" lengthAdjust="spacingAndGlyphs" fill="#1c1c1c" stroke="#1c1c1c" stroke-width="0.18">23</text>
<text x="351.20" y="480.77" font-size="7.0" textLength="16.29" lengthAdjust="spacingAndGlyphs" fill="#1c1c1c" stroke="#1c1c1c" stroke-width="0.18">4.664</text>
<text x="391.73" y="480.37" font-size="6.6" textLength="5.14" lengthAdjust="spacingAndGlyphs" fill="#222" stroke="#222" stroke-width="0.05">**</text>
<line x1="154.68" y1="478.47" x2="197.6" y2="478.47" stroke="#4f6f8f" stroke-width="0.95"/>
<path d="M196.2 477.17L199 478.47L196.2 479.77Z" fill="#2a3a50"/>
<circle cx="190.65" cy="478.47" r="1.85" fill="#101828"/>
<text x="215.62" y="491.16" font-size="7.0" font-style="italic" textLength="22.04" lengthAdjust="spacingAndGlyphs" fill="#1c1c1c" stroke="#1c1c1c" stroke-width="0.18">RRAGC</text>
<text x="274.29" y="491.16" font-size="7.0" textLength="3.62" lengthAdjust="spacingAndGlyphs" fill="#1c1c1c" stroke="#1c1c1c" stroke-width="0.18">5</text>
<text x="316.85" y="491.16" font-size="7.0" textLength="7.24" lengthAdjust="spacingAndGlyphs" fill="#1c1c1c" stroke="#1c1c1c" stroke-width="0.18">23</text>
<text x="351.20" y="491.16" font-size="7.0" textLength="16.29" lengthAdjust="spacingAndGlyphs" fill="#1c1c1c" stroke="#1c1c1c" stroke-width="0.18">4.664</text>
<text x="391.73" y="490.76" font-size="6.6" textLength="5.14" lengthAdjust="spacingAndGlyphs" fill="#222" stroke="#222" stroke-width="0.05">**</text>
<line x1="154.68" y1="488.86" x2="197.6" y2="488.86" stroke="#4f6f8f" stroke-width="0.95"/>
<path d="M196.2 487.56L199 488.86L196.2 490.16Z" fill="#2a3a50"/>
<circle cx="190.65" cy="488.86" r="1.85" fill="#101828"/>
<text x="216.12" y="501.55" font-size="7.0" font-style="italic" textLength="27.46" lengthAdjust="spacingAndGlyphs" fill="#1c1c1c" stroke="#1c1c1c" stroke-width="0.18">ATP6AP1</text>
<text x="274.29" y="501.55" font-size="7.0" textLength="3.62" lengthAdjust="spacingAndGlyphs" fill="#1c1c1c" stroke="#1c1c1c" stroke-width="0.18">2</text>
<text x="316.81" y="501.55" font-size="7.0" textLength="7.24" lengthAdjust="spacingAndGlyphs" fill="#1c1c1c" stroke="#1c1c1c" stroke-width="0.18">17</text>
<text x="351.16" y="501.55" font-size="7.0" textLength="16.29" lengthAdjust="spacingAndGlyphs" fill="#1c1c1c" stroke="#1c1c1c" stroke-width="0.18">8.359</text>
<text x="391.73" y="501.15" font-size="6.6" textLength="5.14" lengthAdjust="spacingAndGlyphs" fill="#222" stroke="#222" stroke-width="0.05">**</text>
<line x1="161.56" y1="499.25" x2="197.6" y2="499.25" stroke="#4f6f8f" stroke-width="0.95"/>
<path d="M196.2 497.95L199 499.25L196.2 500.55Z" fill="#2a3a50"/>
<circle cx="190.65" cy="499.25" r="1.85" fill="#101828"/>
<text x="215.23" y="511.94" font-size="7.0" font-style="italic" textLength="21.92" lengthAdjust="spacingAndGlyphs" fill="#1c1c1c" stroke="#1c1c1c" stroke-width="0.18">VMA21</text>
<text x="274.28" y="511.94" font-size="7.0" textLength="3.62" lengthAdjust="spacingAndGlyphs" fill="#1c1c1c" stroke="#1c1c1c" stroke-width="0.18">0</text>
<text x="317.03" y="511.94" font-size="7.0" textLength="6.76" lengthAdjust="spacingAndGlyphs" fill="#1c1c1c" stroke="#1c1c1c" stroke-width="0.18">11</text>
<text x="355.38" y="511.94" font-size="7.0" textLength="7.24" lengthAdjust="spacingAndGlyphs" fill="#1c1c1c" stroke="#1c1c1c" stroke-width="0.18">Inf</text>
<text x="390.44" y="511.54" font-size="6.6" textLength="7.70" lengthAdjust="spacingAndGlyphs" fill="#222" stroke="#222" stroke-width="0.05">***</text>
<line x1="172.13" y1="509.64" x2="197.6" y2="509.64" stroke="#4f6f8f" stroke-width="0.95"/>
<path d="M196.2 508.34L199 509.64L196.2 510.94Z" fill="#2a3a50"/>
<circle cx="190.65" cy="509.64" r="1.85" fill="#101828"/>
<text x="215.32" y="522.33" font-size="7.0" font-style="italic" textLength="21.13" lengthAdjust="spacingAndGlyphs" fill="#1c1c1c" stroke="#1c1c1c" stroke-width="0.18">UBE2A</text>
<text x="274.28" y="522.33" font-size="7.0" textLength="3.62" lengthAdjust="spacingAndGlyphs" fill="#1c1c1c" stroke="#1c1c1c" stroke-width="0.18">0</text>
<text x="316.76" y="522.33" font-size="7.0" textLength="7.24" lengthAdjust="spacingAndGlyphs" fill="#1c1c1c" stroke="#1c1c1c" stroke-width="0.18">10</text>
<text x="355.38" y="522.33" font-size="7.0" textLength="7.24" lengthAdjust="spacingAndGlyphs" fill="#1c1c1c" stroke="#1c1c1c" stroke-width="0.18">Inf</text>
<text x="391.73" y="521.93" font-size="6.6" textLength="5.14" lengthAdjust="spacingAndGlyphs" fill="#222" stroke="#222" stroke-width="0.05">**</text>
<line x1="165.52" y1="520.03" x2="197.6" y2="520.03" stroke="#4f6f8f" stroke-width="0.95"/>
<path d="M196.2 518.73L199 520.03L196.2 521.33Z" fill="#2a3a50"/>
<circle cx="190.65" cy="520.03" r="1.85" fill="#101828"/>
<line x1="108.7" y1="525.5" x2="193.5" y2="525.5" stroke="#222" stroke-width="0.9"/>
<line x1="111.30" y1="525.5" x2="111.30" y2="528.3" stroke="#222" stroke-width="0.8"/>
<text x="109.56" y="536.90" font-size="6.2" textLength="3.45" lengthAdjust="spacingAndGlyphs" fill="#444" stroke="#444" stroke-width="0.06">0</text>
<line x1="137.75" y1="525.5" x2="137.75" y2="528.3" stroke="#222" stroke-width="0.8"/>
<text x="135.94" y="536.90" font-size="6.2" textLength="3.45" lengthAdjust="spacingAndGlyphs" fill="#444" stroke="#444" stroke-width="0.06">1</text>
<line x1="164.20" y1="525.5" x2="164.20" y2="528.3" stroke="#222" stroke-width="0.8"/>
<text x="162.48" y="536.90" font-size="6.2" textLength="3.45" lengthAdjust="spacingAndGlyphs" fill="#444" stroke="#444" stroke-width="0.06">2</text>
<line x1="190.65" y1="525.5" x2="190.65" y2="528.3" stroke="#222" stroke-width="0.8"/>
<text x="188.93" y="536.90" font-size="6.2" textLength="3.45" lengthAdjust="spacingAndGlyphs" fill="#444" stroke="#444" stroke-width="0.06">3</text>
<text x="215.00" y="538.20" font-size="6.6" textLength="207.74" lengthAdjust="spacingAndGlyphs" fill="#262626" stroke="#262626" stroke-width="0.1">Odd ratio with 95% CI; 1 = no effect; &lt; 1 GCB-like (has more mutants)</text>
</svg>
</body></html>
